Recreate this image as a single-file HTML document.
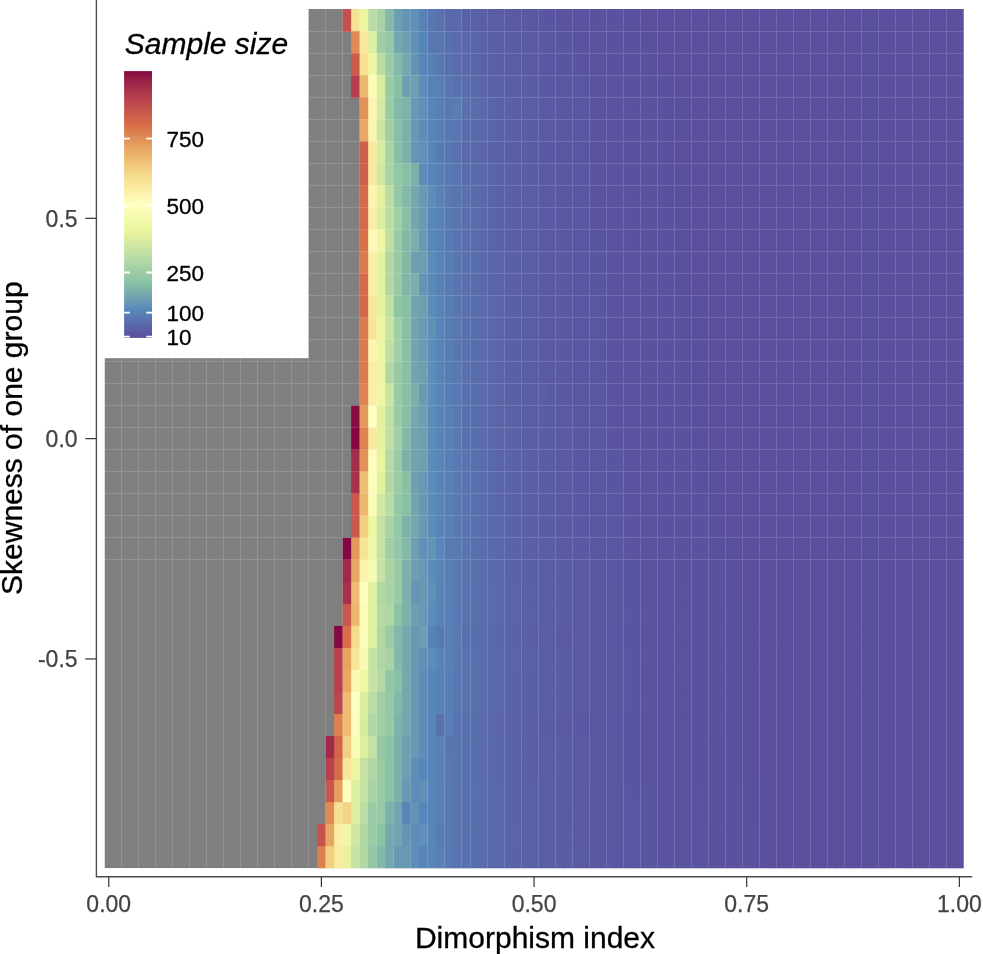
<!DOCTYPE html><html><head><meta charset="utf-8"><title>Sample size heatmap</title><style>html,body{margin:0;padding:0;background:#fff}svg{display:block}text{font-family:"Liberation Sans",Arial,Helvetica,sans-serif}#t rect{width:9.506px;height:23.030px}</style></head><body>
<svg width="983" height="954" viewBox="0 0 983 954">
<rect width="983" height="954" fill="#fff"/>
<clipPath id="cp"><rect x="104.50" y="9.05" width="859.11" height="859.17"/></clipPath>
<g id="t" clip-path="url(#cp)">
<path d="M104.50 9.05h859.11v859.17h-859.11z" fill="#7f7f7f"/>
<g transform="translate(0,9.050)">
<rect x="342.67" fill="#c4514d"/>
<rect x="351.17" fill="#f7e293"/>
<rect x="359.68" fill="#edf6a1"/>
<rect x="368.19" fill="#bbdda5"/>
<rect x="376.69" fill="#aad3a5"/>
<rect x="385.20" fill="#82b9a8"/>
<rect x="393.70" fill="#6d9eb1"/>
<rect x="402.21" fill="#6494b5"/>
<rect x="410.72" fill="#6090b7"/>
<rect x="419.22" fill="#5782b7"/>
<rect x="427.73" fill="#5976b1"/>
<rect x="436.23" fill="#5972af"/>
<rect x="444.74" fill="#5a69ab"/>
<rect x="453.25" fill="#5a69ab"/>
<rect x="461.75" fill="#5a62a7"/>
<rect x="470.26" fill="#5a62a7"/>
<rect x="478.76" fill="#5a5ea5"/>
<rect x="487.27" fill="#5a5da5"/>
<rect x="495.78" fill="#5a5ca4"/>
<rect x="504.28" fill="#5a5aa3"/>
<rect x="512.79" fill="#5a59a2"/>
<rect x="521.29" fill="#5a58a2"/>
<rect x="529.80" fill="#5a57a1"/>
<rect x="538.31" fill="#5a56a1"/>
<rect x="546.81" fill="#5a55a1"/>
<rect x="555.32" fill="#5a54a0"/>
<rect x="563.82" fill="#5a54a0"/>
<rect x="572.33" fill="#5a53a0"/>
<rect x="580.84" fill="#5a539f"/>
<rect x="589.34" fill="#5a529f"/>
<rect x="597.85" fill="#5a529f"/>
<rect x="606.35" fill="#5a519f"/>
<rect x="614.86" fill="#5a519f"/>
<rect x="623.37" fill="#5a519e"/>
<rect x="631.87" fill="#5a509e"/>
<rect x="640.38" fill="#5a509e"/>
<rect x="648.88" fill="#5a509e"/>
<rect x="657.39" fill="#5a509e"/>
<rect x="665.90" fill="#5a509e"/>
<rect x="674.40" fill="#5a509e"/>
<rect x="682.91" fill="#5a509e"/>
<rect x="691.41" fill="#5a509e"/>
<rect x="699.92" fill="#5a509e"/>
<rect x="708.43" fill="#5a509e"/>
<rect x="716.93" fill="#5a509e"/>
<rect x="725.44" fill="#5a509e"/>
<rect x="733.94" fill="#5a509e"/>
<rect x="742.45" fill="#5a509e"/>
<rect x="750.96" fill="#5a509e"/>
<rect x="759.46" fill="#5a509e"/>
<rect x="767.97" fill="#5a509e"/>
<rect x="776.47" fill="#5a509e"/>
<rect x="784.98" fill="#5a509e"/>
<rect x="793.49" fill="#5a509e"/>
<rect x="801.99" fill="#5a509e"/>
<rect x="810.50" fill="#5a509e"/>
<rect x="819.00" fill="#5a509e"/>
<rect x="827.51" fill="#5a509e"/>
<rect x="836.02" fill="#5a509e"/>
<rect x="844.52" fill="#5a509e"/>
<rect x="853.03" fill="#5a509e"/>
<rect x="861.53" fill="#5a509e"/>
<rect x="870.04" fill="#5a509e"/>
<rect x="878.55" fill="#5a509e"/>
<rect x="887.05" fill="#5a509e"/>
<rect x="895.56" fill="#5a509e"/>
<rect x="904.06" fill="#5a509e"/>
<rect x="912.57" fill="#5a509e"/>
<rect x="921.08" fill="#5a509e"/>
<rect x="929.58" fill="#5a509e"/>
<rect x="938.09" fill="#5a509e"/>
<rect x="946.59" fill="#5a509e"/>
<rect x="955.10" fill="#5a509e"/>
</g>
<g transform="translate(0,31.080)">
<rect x="351.17" fill="#e08a55"/>
<rect x="359.68" fill="#f9e89d"/>
<rect x="368.19" fill="#dcee9f"/>
<rect x="376.69" fill="#a1cea5"/>
<rect x="385.20" fill="#93c7a5"/>
<rect x="393.70" fill="#75a7ae"/>
<rect x="402.21" fill="#6d9eb1"/>
<rect x="410.72" fill="#6090b7"/>
<rect x="419.22" fill="#5785b9"/>
<rect x="427.73" fill="#5976b1"/>
<rect x="436.23" fill="#5976b1"/>
<rect x="444.74" fill="#5970ae"/>
<rect x="453.25" fill="#5a6bab"/>
<rect x="461.75" fill="#5a69ab"/>
<rect x="470.26" fill="#5a65a9"/>
<rect x="478.76" fill="#5a63a7"/>
<rect x="487.27" fill="#5a60a6"/>
<rect x="495.78" fill="#5a5ea5"/>
<rect x="504.28" fill="#5a5da4"/>
<rect x="512.79" fill="#5a5ba3"/>
<rect x="521.29" fill="#5a5aa3"/>
<rect x="529.80" fill="#5a59a2"/>
<rect x="538.31" fill="#5a58a2"/>
<rect x="546.81" fill="#5a57a1"/>
<rect x="555.32" fill="#5a56a1"/>
<rect x="563.82" fill="#5a55a1"/>
<rect x="572.33" fill="#5a54a0"/>
<rect x="580.84" fill="#5a54a0"/>
<rect x="589.34" fill="#5a53a0"/>
<rect x="597.85" fill="#5a539f"/>
<rect x="606.35" fill="#5a529f"/>
<rect x="614.86" fill="#5a529f"/>
<rect x="623.37" fill="#5a519f"/>
<rect x="631.87" fill="#5a519f"/>
<rect x="640.38" fill="#5a519e"/>
<rect x="648.88" fill="#5a509e"/>
<rect x="657.39" fill="#5a509e"/>
<rect x="665.90" fill="#5a509e"/>
<rect x="674.40" fill="#5a509e"/>
<rect x="682.91" fill="#5a509e"/>
<rect x="691.41" fill="#5a509e"/>
<rect x="699.92" fill="#5a509e"/>
<rect x="708.43" fill="#5a509e"/>
<rect x="716.93" fill="#5a509e"/>
<rect x="725.44" fill="#5a509e"/>
<rect x="733.94" fill="#5a509e"/>
<rect x="742.45" fill="#5a509e"/>
<rect x="750.96" fill="#5a509e"/>
<rect x="759.46" fill="#5a509e"/>
<rect x="767.97" fill="#5a509e"/>
<rect x="776.47" fill="#5a509e"/>
<rect x="784.98" fill="#5a509e"/>
<rect x="793.49" fill="#5a509e"/>
<rect x="801.99" fill="#5a509e"/>
<rect x="810.50" fill="#5a509e"/>
<rect x="819.00" fill="#5a509e"/>
<rect x="827.51" fill="#5a509e"/>
<rect x="836.02" fill="#5a509e"/>
<rect x="844.52" fill="#5a509e"/>
<rect x="853.03" fill="#5a509e"/>
<rect x="861.53" fill="#5a509e"/>
<rect x="870.04" fill="#5a509e"/>
<rect x="878.55" fill="#5a509e"/>
<rect x="887.05" fill="#5a509e"/>
<rect x="895.56" fill="#5a509e"/>
<rect x="904.06" fill="#5a509e"/>
<rect x="912.57" fill="#5a509e"/>
<rect x="921.08" fill="#5a509e"/>
<rect x="929.58" fill="#5a509e"/>
<rect x="938.09" fill="#5a509e"/>
<rect x="946.59" fill="#5a509e"/>
<rect x="955.10" fill="#5a509e"/>
</g>
<g transform="translate(0,53.110)">
<rect x="351.17" fill="#cb5b4b"/>
<rect x="359.68" fill="#f6e091"/>
<rect x="368.19" fill="#edf6a1"/>
<rect x="376.69" fill="#bbdda5"/>
<rect x="385.20" fill="#9acba5"/>
<rect x="393.70" fill="#82b9a8"/>
<rect x="402.21" fill="#75a7ae"/>
<rect x="410.72" fill="#6494b5"/>
<rect x="419.22" fill="#5785b9"/>
<rect x="427.73" fill="#587fb6"/>
<rect x="436.23" fill="#5978b2"/>
<rect x="444.74" fill="#5970ae"/>
<rect x="453.25" fill="#5a6cac"/>
<rect x="461.75" fill="#5a69ab"/>
<rect x="470.26" fill="#5a66a9"/>
<rect x="478.76" fill="#5a63a8"/>
<rect x="487.27" fill="#5a61a6"/>
<rect x="495.78" fill="#5a5fa5"/>
<rect x="504.28" fill="#5a5da5"/>
<rect x="512.79" fill="#5a5ca4"/>
<rect x="521.29" fill="#5a5aa3"/>
<rect x="529.80" fill="#5a59a3"/>
<rect x="538.31" fill="#5a58a2"/>
<rect x="546.81" fill="#5a57a2"/>
<rect x="555.32" fill="#5a56a1"/>
<rect x="563.82" fill="#5a55a1"/>
<rect x="572.33" fill="#5a55a0"/>
<rect x="580.84" fill="#5a54a0"/>
<rect x="589.34" fill="#5a54a0"/>
<rect x="597.85" fill="#5a53a0"/>
<rect x="606.35" fill="#5a529f"/>
<rect x="614.86" fill="#5a529f"/>
<rect x="623.37" fill="#5a529f"/>
<rect x="631.87" fill="#5a519f"/>
<rect x="640.38" fill="#5a519f"/>
<rect x="648.88" fill="#5a519e"/>
<rect x="657.39" fill="#5a509e"/>
<rect x="665.90" fill="#5a509e"/>
<rect x="674.40" fill="#5a509e"/>
<rect x="682.91" fill="#5a509e"/>
<rect x="691.41" fill="#5a509e"/>
<rect x="699.92" fill="#5a509e"/>
<rect x="708.43" fill="#5a509e"/>
<rect x="716.93" fill="#5a509e"/>
<rect x="725.44" fill="#5a509e"/>
<rect x="733.94" fill="#5a509e"/>
<rect x="742.45" fill="#5a509e"/>
<rect x="750.96" fill="#5a509e"/>
<rect x="759.46" fill="#5a509e"/>
<rect x="767.97" fill="#5a509e"/>
<rect x="776.47" fill="#5a509e"/>
<rect x="784.98" fill="#5a509e"/>
<rect x="793.49" fill="#5a509e"/>
<rect x="801.99" fill="#5a509e"/>
<rect x="810.50" fill="#5a509e"/>
<rect x="819.00" fill="#5a509e"/>
<rect x="827.51" fill="#5a509e"/>
<rect x="836.02" fill="#5a509e"/>
<rect x="844.52" fill="#5a509e"/>
<rect x="853.03" fill="#5a509e"/>
<rect x="861.53" fill="#5a509e"/>
<rect x="870.04" fill="#5a509e"/>
<rect x="878.55" fill="#5a509e"/>
<rect x="887.05" fill="#5a509e"/>
<rect x="895.56" fill="#5a509e"/>
<rect x="904.06" fill="#5a509e"/>
<rect x="912.57" fill="#5a509e"/>
<rect x="921.08" fill="#5a509e"/>
<rect x="929.58" fill="#5a509e"/>
<rect x="938.09" fill="#5a509e"/>
<rect x="946.59" fill="#5a509e"/>
<rect x="955.10" fill="#5a509e"/>
</g>
<g transform="translate(0,75.140)">
<rect x="351.17" fill="#b43d4e"/>
<rect x="359.68" fill="#ecb86f"/>
<rect x="368.19" fill="#fafcb7"/>
<rect x="376.69" fill="#dbed9f"/>
<rect x="385.20" fill="#9acba5"/>
<rect x="393.70" fill="#87c0a5"/>
<rect x="402.21" fill="#6d9eb1"/>
<rect x="410.72" fill="#6d9eb1"/>
<rect x="419.22" fill="#5c8cb8"/>
<rect x="427.73" fill="#5781b7"/>
<rect x="436.23" fill="#587fb6"/>
<rect x="444.74" fill="#5976b1"/>
<rect x="453.25" fill="#5970ae"/>
<rect x="461.75" fill="#5a6dac"/>
<rect x="470.26" fill="#5a69aa"/>
<rect x="478.76" fill="#5a66a9"/>
<rect x="487.27" fill="#5a63a8"/>
<rect x="495.78" fill="#5a61a6"/>
<rect x="504.28" fill="#5a5fa5"/>
<rect x="512.79" fill="#5a5da5"/>
<rect x="521.29" fill="#5a5ca4"/>
<rect x="529.80" fill="#5a5ba3"/>
<rect x="538.31" fill="#5a59a3"/>
<rect x="546.81" fill="#5a58a2"/>
<rect x="555.32" fill="#5a57a2"/>
<rect x="563.82" fill="#5a56a1"/>
<rect x="572.33" fill="#5a56a1"/>
<rect x="580.84" fill="#5a55a0"/>
<rect x="589.34" fill="#5a54a0"/>
<rect x="597.85" fill="#5a54a0"/>
<rect x="606.35" fill="#5a53a0"/>
<rect x="614.86" fill="#5a539f"/>
<rect x="623.37" fill="#5a529f"/>
<rect x="631.87" fill="#5a529f"/>
<rect x="640.38" fill="#5a519f"/>
<rect x="648.88" fill="#5a519f"/>
<rect x="657.39" fill="#5a519e"/>
<rect x="665.90" fill="#5a509e"/>
<rect x="674.40" fill="#5a509e"/>
<rect x="682.91" fill="#5a509e"/>
<rect x="691.41" fill="#5a509e"/>
<rect x="699.92" fill="#5a509e"/>
<rect x="708.43" fill="#5a509e"/>
<rect x="716.93" fill="#5a509e"/>
<rect x="725.44" fill="#5a509e"/>
<rect x="733.94" fill="#5a509e"/>
<rect x="742.45" fill="#5a509e"/>
<rect x="750.96" fill="#5a509e"/>
<rect x="759.46" fill="#5a509e"/>
<rect x="767.97" fill="#5a509e"/>
<rect x="776.47" fill="#5a509e"/>
<rect x="784.98" fill="#5a509e"/>
<rect x="793.49" fill="#5a509e"/>
<rect x="801.99" fill="#5a509e"/>
<rect x="810.50" fill="#5a509e"/>
<rect x="819.00" fill="#5a509e"/>
<rect x="827.51" fill="#5a509e"/>
<rect x="836.02" fill="#5a509e"/>
<rect x="844.52" fill="#5a509e"/>
<rect x="853.03" fill="#5a509e"/>
<rect x="861.53" fill="#5a509e"/>
<rect x="870.04" fill="#5a509e"/>
<rect x="878.55" fill="#5a509e"/>
<rect x="887.05" fill="#5a509e"/>
<rect x="895.56" fill="#5a509e"/>
<rect x="904.06" fill="#5a509e"/>
<rect x="912.57" fill="#5a509e"/>
<rect x="921.08" fill="#5a509e"/>
<rect x="929.58" fill="#5a509e"/>
<rect x="938.09" fill="#5a509e"/>
<rect x="946.59" fill="#5a509e"/>
<rect x="955.10" fill="#5a509e"/>
</g>
<g transform="translate(0,97.170)">
<rect x="359.68" fill="#e29258"/>
<rect x="368.19" fill="#fcf5b1"/>
<rect x="376.69" fill="#d4eaa0"/>
<rect x="385.20" fill="#9acba5"/>
<rect x="393.70" fill="#82b9a8"/>
<rect x="402.21" fill="#7eb3aa"/>
<rect x="410.72" fill="#6898b3"/>
<rect x="419.22" fill="#6090b7"/>
<rect x="427.73" fill="#5785b9"/>
<rect x="436.23" fill="#587fb6"/>
<rect x="444.74" fill="#5978b2"/>
<rect x="453.25" fill="#587cb4"/>
<rect x="461.75" fill="#5970ae"/>
<rect x="470.26" fill="#5a6cac"/>
<rect x="478.76" fill="#5a69aa"/>
<rect x="487.27" fill="#5a66a9"/>
<rect x="495.78" fill="#5a63a8"/>
<rect x="504.28" fill="#5a61a6"/>
<rect x="512.79" fill="#5a5fa5"/>
<rect x="521.29" fill="#5a5da5"/>
<rect x="529.80" fill="#5a5ca4"/>
<rect x="538.31" fill="#5a5aa3"/>
<rect x="546.81" fill="#5a59a3"/>
<rect x="555.32" fill="#5a58a2"/>
<rect x="563.82" fill="#5a57a2"/>
<rect x="572.33" fill="#5a56a1"/>
<rect x="580.84" fill="#5a56a1"/>
<rect x="589.34" fill="#5a55a0"/>
<rect x="597.85" fill="#5a54a0"/>
<rect x="606.35" fill="#5a54a0"/>
<rect x="614.86" fill="#5a53a0"/>
<rect x="623.37" fill="#5a539f"/>
<rect x="631.87" fill="#5a529f"/>
<rect x="640.38" fill="#5a529f"/>
<rect x="648.88" fill="#5a519f"/>
<rect x="657.39" fill="#5a519f"/>
<rect x="665.90" fill="#5a519e"/>
<rect x="674.40" fill="#5a509e"/>
<rect x="682.91" fill="#5a509e"/>
<rect x="691.41" fill="#5a509e"/>
<rect x="699.92" fill="#5a509e"/>
<rect x="708.43" fill="#5a509e"/>
<rect x="716.93" fill="#5a509e"/>
<rect x="725.44" fill="#5a509e"/>
<rect x="733.94" fill="#5a509e"/>
<rect x="742.45" fill="#5a509e"/>
<rect x="750.96" fill="#5a509e"/>
<rect x="759.46" fill="#5a509e"/>
<rect x="767.97" fill="#5a509e"/>
<rect x="776.47" fill="#5a509e"/>
<rect x="784.98" fill="#5a509e"/>
<rect x="793.49" fill="#5a509e"/>
<rect x="801.99" fill="#5a509e"/>
<rect x="810.50" fill="#5a509e"/>
<rect x="819.00" fill="#5a509e"/>
<rect x="827.51" fill="#5a509e"/>
<rect x="836.02" fill="#5a509e"/>
<rect x="844.52" fill="#5a509e"/>
<rect x="853.03" fill="#5a509e"/>
<rect x="861.53" fill="#5a509e"/>
<rect x="870.04" fill="#5a509e"/>
<rect x="878.55" fill="#5a509e"/>
<rect x="887.05" fill="#5a509e"/>
<rect x="895.56" fill="#5a509e"/>
<rect x="904.06" fill="#5a509e"/>
<rect x="912.57" fill="#5a509e"/>
<rect x="921.08" fill="#5a509e"/>
<rect x="929.58" fill="#5a509e"/>
<rect x="938.09" fill="#5a509e"/>
<rect x="946.59" fill="#5a509e"/>
<rect x="955.10" fill="#5a509e"/>
</g>
<g transform="translate(0,119.200)">
<rect x="359.68" fill="#e8a964"/>
<rect x="368.19" fill="#fcf4af"/>
<rect x="376.69" fill="#cce5a2"/>
<rect x="385.20" fill="#a1cea5"/>
<rect x="393.70" fill="#87c0a5"/>
<rect x="402.21" fill="#7bb0ab"/>
<rect x="410.72" fill="#6898b3"/>
<rect x="419.22" fill="#5d8db8"/>
<rect x="427.73" fill="#5785b9"/>
<rect x="436.23" fill="#587fb6"/>
<rect x="444.74" fill="#5977b2"/>
<rect x="453.25" fill="#5976b1"/>
<rect x="461.75" fill="#5a6cac"/>
<rect x="470.26" fill="#5a6bab"/>
<rect x="478.76" fill="#5a67a9"/>
<rect x="487.27" fill="#5a64a8"/>
<rect x="495.78" fill="#5a62a7"/>
<rect x="504.28" fill="#5a60a6"/>
<rect x="512.79" fill="#5a5ea5"/>
<rect x="521.29" fill="#5a5da4"/>
<rect x="529.80" fill="#5a5ba4"/>
<rect x="538.31" fill="#5a5aa3"/>
<rect x="546.81" fill="#5a59a2"/>
<rect x="555.32" fill="#5a58a2"/>
<rect x="563.82" fill="#5a57a1"/>
<rect x="572.33" fill="#5a56a1"/>
<rect x="580.84" fill="#5a55a1"/>
<rect x="589.34" fill="#5a55a0"/>
<rect x="597.85" fill="#5a54a0"/>
<rect x="606.35" fill="#5a53a0"/>
<rect x="614.86" fill="#5a53a0"/>
<rect x="623.37" fill="#5a529f"/>
<rect x="631.87" fill="#5a529f"/>
<rect x="640.38" fill="#5a529f"/>
<rect x="648.88" fill="#5a519f"/>
<rect x="657.39" fill="#5a519f"/>
<rect x="665.90" fill="#5a519e"/>
<rect x="674.40" fill="#5a509e"/>
<rect x="682.91" fill="#5a509e"/>
<rect x="691.41" fill="#5a509e"/>
<rect x="699.92" fill="#5a509e"/>
<rect x="708.43" fill="#5a509e"/>
<rect x="716.93" fill="#5a509e"/>
<rect x="725.44" fill="#5a509e"/>
<rect x="733.94" fill="#5a509e"/>
<rect x="742.45" fill="#5a509e"/>
<rect x="750.96" fill="#5a509e"/>
<rect x="759.46" fill="#5a509e"/>
<rect x="767.97" fill="#5a509e"/>
<rect x="776.47" fill="#5a509e"/>
<rect x="784.98" fill="#5a509e"/>
<rect x="793.49" fill="#5a509e"/>
<rect x="801.99" fill="#5a509e"/>
<rect x="810.50" fill="#5a509e"/>
<rect x="819.00" fill="#5a509e"/>
<rect x="827.51" fill="#5a509e"/>
<rect x="836.02" fill="#5a509e"/>
<rect x="844.52" fill="#5a509e"/>
<rect x="853.03" fill="#5a509e"/>
<rect x="861.53" fill="#5a509e"/>
<rect x="870.04" fill="#5a509e"/>
<rect x="878.55" fill="#5a509e"/>
<rect x="887.05" fill="#5a509e"/>
<rect x="895.56" fill="#5a509e"/>
<rect x="904.06" fill="#5a509e"/>
<rect x="912.57" fill="#5a509e"/>
<rect x="921.08" fill="#5a509e"/>
<rect x="929.58" fill="#5a509e"/>
<rect x="938.09" fill="#5a509e"/>
<rect x="946.59" fill="#5a509e"/>
<rect x="955.10" fill="#5a509e"/>
</g>
<g transform="translate(0,141.230)">
<rect x="359.68" fill="#ce604a"/>
<rect x="368.19" fill="#f9eaa0"/>
<rect x="376.69" fill="#d8ec9f"/>
<rect x="385.20" fill="#aad3a5"/>
<rect x="393.70" fill="#87c0a5"/>
<rect x="402.21" fill="#7bb0ab"/>
<rect x="410.72" fill="#6695b5"/>
<rect x="419.22" fill="#6090b7"/>
<rect x="427.73" fill="#5785b9"/>
<rect x="436.23" fill="#587ab3"/>
<rect x="444.74" fill="#5977b2"/>
<rect x="453.25" fill="#5972af"/>
<rect x="461.75" fill="#5a6bab"/>
<rect x="470.26" fill="#5a69aa"/>
<rect x="478.76" fill="#5a66a9"/>
<rect x="487.27" fill="#5a63a8"/>
<rect x="495.78" fill="#5a61a6"/>
<rect x="504.28" fill="#5a5fa5"/>
<rect x="512.79" fill="#5a5da5"/>
<rect x="521.29" fill="#5a5ca4"/>
<rect x="529.80" fill="#5a5ba3"/>
<rect x="538.31" fill="#5a59a3"/>
<rect x="546.81" fill="#5a58a2"/>
<rect x="555.32" fill="#5a57a2"/>
<rect x="563.82" fill="#5a57a1"/>
<rect x="572.33" fill="#5a56a1"/>
<rect x="580.84" fill="#5a55a1"/>
<rect x="589.34" fill="#5a54a0"/>
<rect x="597.85" fill="#5a54a0"/>
<rect x="606.35" fill="#5a53a0"/>
<rect x="614.86" fill="#5a539f"/>
<rect x="623.37" fill="#5a529f"/>
<rect x="631.87" fill="#5a529f"/>
<rect x="640.38" fill="#5a529f"/>
<rect x="648.88" fill="#5a519f"/>
<rect x="657.39" fill="#5a519f"/>
<rect x="665.90" fill="#5a509e"/>
<rect x="674.40" fill="#5a509e"/>
<rect x="682.91" fill="#5a509e"/>
<rect x="691.41" fill="#5a509e"/>
<rect x="699.92" fill="#5a509e"/>
<rect x="708.43" fill="#5a509e"/>
<rect x="716.93" fill="#5a509e"/>
<rect x="725.44" fill="#5a509e"/>
<rect x="733.94" fill="#5a509e"/>
<rect x="742.45" fill="#5a509e"/>
<rect x="750.96" fill="#5a509e"/>
<rect x="759.46" fill="#5a509e"/>
<rect x="767.97" fill="#5a509e"/>
<rect x="776.47" fill="#5a509e"/>
<rect x="784.98" fill="#5a509e"/>
<rect x="793.49" fill="#5a509e"/>
<rect x="801.99" fill="#5a509e"/>
<rect x="810.50" fill="#5a509e"/>
<rect x="819.00" fill="#5a509e"/>
<rect x="827.51" fill="#5a509e"/>
<rect x="836.02" fill="#5a509e"/>
<rect x="844.52" fill="#5a509e"/>
<rect x="853.03" fill="#5a509e"/>
<rect x="861.53" fill="#5a509e"/>
<rect x="870.04" fill="#5a509e"/>
<rect x="878.55" fill="#5a509e"/>
<rect x="887.05" fill="#5a509e"/>
<rect x="895.56" fill="#5a509e"/>
<rect x="904.06" fill="#5a509e"/>
<rect x="912.57" fill="#5a509e"/>
<rect x="921.08" fill="#5a509e"/>
<rect x="929.58" fill="#5a509e"/>
<rect x="938.09" fill="#5a509e"/>
<rect x="946.59" fill="#5a509e"/>
<rect x="955.10" fill="#5a509e"/>
</g>
<g transform="translate(0,163.260)">
<rect x="359.68" fill="#ce5f4a"/>
<rect x="368.19" fill="#f9e89d"/>
<rect x="376.69" fill="#d1e8a1"/>
<rect x="385.20" fill="#aad3a5"/>
<rect x="393.70" fill="#93c7a5"/>
<rect x="402.21" fill="#87c0a5"/>
<rect x="410.72" fill="#7bb0ab"/>
<rect x="419.22" fill="#5c8cb8"/>
<rect x="427.73" fill="#5785b9"/>
<rect x="436.23" fill="#587fb6"/>
<rect x="444.74" fill="#5978b2"/>
<rect x="453.25" fill="#5974b0"/>
<rect x="461.75" fill="#596dad"/>
<rect x="470.26" fill="#5a6aab"/>
<rect x="478.76" fill="#5a67aa"/>
<rect x="487.27" fill="#5a64a8"/>
<rect x="495.78" fill="#5a62a7"/>
<rect x="504.28" fill="#5a60a6"/>
<rect x="512.79" fill="#5a5ea5"/>
<rect x="521.29" fill="#5a5da4"/>
<rect x="529.80" fill="#5a5ba3"/>
<rect x="538.31" fill="#5a5aa3"/>
<rect x="546.81" fill="#5a59a2"/>
<rect x="555.32" fill="#5a58a2"/>
<rect x="563.82" fill="#5a57a1"/>
<rect x="572.33" fill="#5a56a1"/>
<rect x="580.84" fill="#5a55a1"/>
<rect x="589.34" fill="#5a55a0"/>
<rect x="597.85" fill="#5a54a0"/>
<rect x="606.35" fill="#5a53a0"/>
<rect x="614.86" fill="#5a53a0"/>
<rect x="623.37" fill="#5a529f"/>
<rect x="631.87" fill="#5a529f"/>
<rect x="640.38" fill="#5a529f"/>
<rect x="648.88" fill="#5a519f"/>
<rect x="657.39" fill="#5a519f"/>
<rect x="665.90" fill="#5a519e"/>
<rect x="674.40" fill="#5a509e"/>
<rect x="682.91" fill="#5a509e"/>
<rect x="691.41" fill="#5a509e"/>
<rect x="699.92" fill="#5a509e"/>
<rect x="708.43" fill="#5a509e"/>
<rect x="716.93" fill="#5a509e"/>
<rect x="725.44" fill="#5a509e"/>
<rect x="733.94" fill="#5a509e"/>
<rect x="742.45" fill="#5a509e"/>
<rect x="750.96" fill="#5a509e"/>
<rect x="759.46" fill="#5a509e"/>
<rect x="767.97" fill="#5a509e"/>
<rect x="776.47" fill="#5a509e"/>
<rect x="784.98" fill="#5a509e"/>
<rect x="793.49" fill="#5a509e"/>
<rect x="801.99" fill="#5a509e"/>
<rect x="810.50" fill="#5a509e"/>
<rect x="819.00" fill="#5a509e"/>
<rect x="827.51" fill="#5a509e"/>
<rect x="836.02" fill="#5a509e"/>
<rect x="844.52" fill="#5a509e"/>
<rect x="853.03" fill="#5a509e"/>
<rect x="861.53" fill="#5a509e"/>
<rect x="870.04" fill="#5a509e"/>
<rect x="878.55" fill="#5a509e"/>
<rect x="887.05" fill="#5a509e"/>
<rect x="895.56" fill="#5a509e"/>
<rect x="904.06" fill="#5a509e"/>
<rect x="912.57" fill="#5a509e"/>
<rect x="921.08" fill="#5a509e"/>
<rect x="929.58" fill="#5a509e"/>
<rect x="938.09" fill="#5a509e"/>
<rect x="946.59" fill="#5a509e"/>
<rect x="955.10" fill="#5a509e"/>
</g>
<g transform="translate(0,185.290)">
<rect x="359.68" fill="#d66a48"/>
<rect x="368.19" fill="#fcf5b0"/>
<rect x="376.69" fill="#e4f29d"/>
<rect x="385.20" fill="#bbdda5"/>
<rect x="393.70" fill="#93c7a5"/>
<rect x="402.21" fill="#82b9a8"/>
<rect x="410.72" fill="#75a7ae"/>
<rect x="419.22" fill="#6898b3"/>
<rect x="427.73" fill="#5c8cb8"/>
<rect x="436.23" fill="#5781b7"/>
<rect x="444.74" fill="#5978b2"/>
<rect x="453.25" fill="#5975b0"/>
<rect x="461.75" fill="#5970ae"/>
<rect x="470.26" fill="#5a6bac"/>
<rect x="478.76" fill="#5a68aa"/>
<rect x="487.27" fill="#5a65a8"/>
<rect x="495.78" fill="#5a63a7"/>
<rect x="504.28" fill="#5a61a6"/>
<rect x="512.79" fill="#5a5fa5"/>
<rect x="521.29" fill="#5a5da4"/>
<rect x="529.80" fill="#5a5ca4"/>
<rect x="538.31" fill="#5a5aa3"/>
<rect x="546.81" fill="#5a59a2"/>
<rect x="555.32" fill="#5a58a2"/>
<rect x="563.82" fill="#5a57a2"/>
<rect x="572.33" fill="#5a56a1"/>
<rect x="580.84" fill="#5a55a1"/>
<rect x="589.34" fill="#5a55a0"/>
<rect x="597.85" fill="#5a54a0"/>
<rect x="606.35" fill="#5a54a0"/>
<rect x="614.86" fill="#5a53a0"/>
<rect x="623.37" fill="#5a539f"/>
<rect x="631.87" fill="#5a529f"/>
<rect x="640.38" fill="#5a529f"/>
<rect x="648.88" fill="#5a519f"/>
<rect x="657.39" fill="#5a519f"/>
<rect x="665.90" fill="#5a519e"/>
<rect x="674.40" fill="#5a509e"/>
<rect x="682.91" fill="#5a509e"/>
<rect x="691.41" fill="#5a509e"/>
<rect x="699.92" fill="#5a509e"/>
<rect x="708.43" fill="#5a509e"/>
<rect x="716.93" fill="#5a509e"/>
<rect x="725.44" fill="#5a509e"/>
<rect x="733.94" fill="#5a509e"/>
<rect x="742.45" fill="#5a509e"/>
<rect x="750.96" fill="#5a509e"/>
<rect x="759.46" fill="#5a509e"/>
<rect x="767.97" fill="#5a509e"/>
<rect x="776.47" fill="#5a509e"/>
<rect x="784.98" fill="#5a509e"/>
<rect x="793.49" fill="#5a509e"/>
<rect x="801.99" fill="#5a509e"/>
<rect x="810.50" fill="#5a509e"/>
<rect x="819.00" fill="#5a509e"/>
<rect x="827.51" fill="#5a509e"/>
<rect x="836.02" fill="#5a509e"/>
<rect x="844.52" fill="#5a509e"/>
<rect x="853.03" fill="#5a509e"/>
<rect x="861.53" fill="#5a509e"/>
<rect x="870.04" fill="#5a509e"/>
<rect x="878.55" fill="#5a509e"/>
<rect x="887.05" fill="#5a509e"/>
<rect x="895.56" fill="#5a509e"/>
<rect x="904.06" fill="#5a509e"/>
<rect x="912.57" fill="#5a509e"/>
<rect x="921.08" fill="#5a509e"/>
<rect x="929.58" fill="#5a509e"/>
<rect x="938.09" fill="#5a509e"/>
<rect x="946.59" fill="#5a509e"/>
<rect x="955.10" fill="#5a509e"/>
</g>
<g transform="translate(0,207.320)">
<rect x="359.68" fill="#d66a48"/>
<rect x="368.19" fill="#faeea6"/>
<rect x="376.69" fill="#dcee9f"/>
<rect x="385.20" fill="#bbdda5"/>
<rect x="393.70" fill="#a1cea5"/>
<rect x="402.21" fill="#87c0a5"/>
<rect x="410.72" fill="#74a6ae"/>
<rect x="419.22" fill="#6999b3"/>
<rect x="427.73" fill="#5888b9"/>
<rect x="436.23" fill="#5781b7"/>
<rect x="444.74" fill="#587ab3"/>
<rect x="453.25" fill="#5976b1"/>
<rect x="461.75" fill="#5970ae"/>
<rect x="470.26" fill="#5a6cac"/>
<rect x="478.76" fill="#5a68aa"/>
<rect x="487.27" fill="#5a66a9"/>
<rect x="495.78" fill="#5a63a7"/>
<rect x="504.28" fill="#5a61a6"/>
<rect x="512.79" fill="#5a5fa5"/>
<rect x="521.29" fill="#5a5da5"/>
<rect x="529.80" fill="#5a5ca4"/>
<rect x="538.31" fill="#5a5ba3"/>
<rect x="546.81" fill="#5a59a3"/>
<rect x="555.32" fill="#5a58a2"/>
<rect x="563.82" fill="#5a57a2"/>
<rect x="572.33" fill="#5a57a1"/>
<rect x="580.84" fill="#5a56a1"/>
<rect x="589.34" fill="#5a55a1"/>
<rect x="597.85" fill="#5a54a0"/>
<rect x="606.35" fill="#5a54a0"/>
<rect x="614.86" fill="#5a53a0"/>
<rect x="623.37" fill="#5a539f"/>
<rect x="631.87" fill="#5a529f"/>
<rect x="640.38" fill="#5a529f"/>
<rect x="648.88" fill="#5a529f"/>
<rect x="657.39" fill="#5a519f"/>
<rect x="665.90" fill="#5a519f"/>
<rect x="674.40" fill="#5a519e"/>
<rect x="682.91" fill="#5a509e"/>
<rect x="691.41" fill="#5a509e"/>
<rect x="699.92" fill="#5a509e"/>
<rect x="708.43" fill="#5a509e"/>
<rect x="716.93" fill="#5a509e"/>
<rect x="725.44" fill="#5a509e"/>
<rect x="733.94" fill="#5a509e"/>
<rect x="742.45" fill="#5a509e"/>
<rect x="750.96" fill="#5a509e"/>
<rect x="759.46" fill="#5a509e"/>
<rect x="767.97" fill="#5a509e"/>
<rect x="776.47" fill="#5a509e"/>
<rect x="784.98" fill="#5a509e"/>
<rect x="793.49" fill="#5a509e"/>
<rect x="801.99" fill="#5a509e"/>
<rect x="810.50" fill="#5a509e"/>
<rect x="819.00" fill="#5a509e"/>
<rect x="827.51" fill="#5a509e"/>
<rect x="836.02" fill="#5a509e"/>
<rect x="844.52" fill="#5a509e"/>
<rect x="853.03" fill="#5a509e"/>
<rect x="861.53" fill="#5a509e"/>
<rect x="870.04" fill="#5a509e"/>
<rect x="878.55" fill="#5a509e"/>
<rect x="887.05" fill="#5a509e"/>
<rect x="895.56" fill="#5a509e"/>
<rect x="904.06" fill="#5a509e"/>
<rect x="912.57" fill="#5a509e"/>
<rect x="921.08" fill="#5a509e"/>
<rect x="929.58" fill="#5a509e"/>
<rect x="938.09" fill="#5a509e"/>
<rect x="946.59" fill="#5a509e"/>
<rect x="955.10" fill="#5a509e"/>
</g>
<g transform="translate(0,229.350)">
<rect x="359.68" fill="#d87048"/>
<rect x="368.19" fill="#fdf9b8"/>
<rect x="376.69" fill="#eff7a5"/>
<rect x="385.20" fill="#c1e0a4"/>
<rect x="393.70" fill="#99caa5"/>
<rect x="402.21" fill="#83baa7"/>
<rect x="410.72" fill="#7bafab"/>
<rect x="419.22" fill="#6999b3"/>
<rect x="427.73" fill="#5888b9"/>
<rect x="436.23" fill="#5782b7"/>
<rect x="444.74" fill="#587bb4"/>
<rect x="453.25" fill="#5975b1"/>
<rect x="461.75" fill="#5970ae"/>
<rect x="470.26" fill="#5a6cac"/>
<rect x="478.76" fill="#5a69aa"/>
<rect x="487.27" fill="#5a66a9"/>
<rect x="495.78" fill="#5a63a8"/>
<rect x="504.28" fill="#5a61a7"/>
<rect x="512.79" fill="#5a5fa6"/>
<rect x="521.29" fill="#5a5ea5"/>
<rect x="529.80" fill="#5a5ca4"/>
<rect x="538.31" fill="#5a5ba3"/>
<rect x="546.81" fill="#5a5aa3"/>
<rect x="555.32" fill="#5a59a2"/>
<rect x="563.82" fill="#5a58a2"/>
<rect x="572.33" fill="#5a57a1"/>
<rect x="580.84" fill="#5a56a1"/>
<rect x="589.34" fill="#5a55a1"/>
<rect x="597.85" fill="#5a55a0"/>
<rect x="606.35" fill="#5a54a0"/>
<rect x="614.86" fill="#5a53a0"/>
<rect x="623.37" fill="#5a53a0"/>
<rect x="631.87" fill="#5a529f"/>
<rect x="640.38" fill="#5a529f"/>
<rect x="648.88" fill="#5a529f"/>
<rect x="657.39" fill="#5a519f"/>
<rect x="665.90" fill="#5a519f"/>
<rect x="674.40" fill="#5a519e"/>
<rect x="682.91" fill="#5a509e"/>
<rect x="691.41" fill="#5a509e"/>
<rect x="699.92" fill="#5a509e"/>
<rect x="708.43" fill="#5a509e"/>
<rect x="716.93" fill="#5a509e"/>
<rect x="725.44" fill="#5a509e"/>
<rect x="733.94" fill="#5a509e"/>
<rect x="742.45" fill="#5a509e"/>
<rect x="750.96" fill="#5a509e"/>
<rect x="759.46" fill="#5a509e"/>
<rect x="767.97" fill="#5a509e"/>
<rect x="776.47" fill="#5a509e"/>
<rect x="784.98" fill="#5a509e"/>
<rect x="793.49" fill="#5a509e"/>
<rect x="801.99" fill="#5a509e"/>
<rect x="810.50" fill="#5a509e"/>
<rect x="819.00" fill="#5a509e"/>
<rect x="827.51" fill="#5a509e"/>
<rect x="836.02" fill="#5a509e"/>
<rect x="844.52" fill="#5a509e"/>
<rect x="853.03" fill="#5a509e"/>
<rect x="861.53" fill="#5a509e"/>
<rect x="870.04" fill="#5a509e"/>
<rect x="878.55" fill="#5a509e"/>
<rect x="887.05" fill="#5a509e"/>
<rect x="895.56" fill="#5a509e"/>
<rect x="904.06" fill="#5a509e"/>
<rect x="912.57" fill="#5a509e"/>
<rect x="921.08" fill="#5a509e"/>
<rect x="929.58" fill="#5a509e"/>
<rect x="938.09" fill="#5a509e"/>
<rect x="946.59" fill="#5a509e"/>
<rect x="955.10" fill="#5a509e"/>
</g>
<g transform="translate(0,251.380)">
<rect x="359.68" fill="#db7a4d"/>
<rect x="368.19" fill="#faeea6"/>
<rect x="376.69" fill="#e6f39d"/>
<rect x="385.20" fill="#b1d7a5"/>
<rect x="393.70" fill="#99caa5"/>
<rect x="402.21" fill="#83baa7"/>
<rect x="410.72" fill="#6e9fb1"/>
<rect x="419.22" fill="#6e9fb1"/>
<rect x="427.73" fill="#5c8cb8"/>
<rect x="436.23" fill="#5783b8"/>
<rect x="444.74" fill="#587cb4"/>
<rect x="453.25" fill="#5976b1"/>
<rect x="461.75" fill="#5971ae"/>
<rect x="470.26" fill="#5a6dac"/>
<rect x="478.76" fill="#5a69ab"/>
<rect x="487.27" fill="#5a66a9"/>
<rect x="495.78" fill="#5a64a8"/>
<rect x="504.28" fill="#5a61a7"/>
<rect x="512.79" fill="#5a60a6"/>
<rect x="521.29" fill="#5a5ea5"/>
<rect x="529.80" fill="#5a5ca4"/>
<rect x="538.31" fill="#5a5ba3"/>
<rect x="546.81" fill="#5a5aa3"/>
<rect x="555.32" fill="#5a59a2"/>
<rect x="563.82" fill="#5a58a2"/>
<rect x="572.33" fill="#5a57a1"/>
<rect x="580.84" fill="#5a56a1"/>
<rect x="589.34" fill="#5a55a1"/>
<rect x="597.85" fill="#5a55a0"/>
<rect x="606.35" fill="#5a54a0"/>
<rect x="614.86" fill="#5a54a0"/>
<rect x="623.37" fill="#5a53a0"/>
<rect x="631.87" fill="#5a539f"/>
<rect x="640.38" fill="#5a529f"/>
<rect x="648.88" fill="#5a529f"/>
<rect x="657.39" fill="#5a519f"/>
<rect x="665.90" fill="#5a519f"/>
<rect x="674.40" fill="#5a519e"/>
<rect x="682.91" fill="#5a509e"/>
<rect x="691.41" fill="#5a509e"/>
<rect x="699.92" fill="#5a509e"/>
<rect x="708.43" fill="#5a509e"/>
<rect x="716.93" fill="#5a509e"/>
<rect x="725.44" fill="#5a509e"/>
<rect x="733.94" fill="#5a509e"/>
<rect x="742.45" fill="#5a509e"/>
<rect x="750.96" fill="#5a509e"/>
<rect x="759.46" fill="#5a509e"/>
<rect x="767.97" fill="#5a509e"/>
<rect x="776.47" fill="#5a509e"/>
<rect x="784.98" fill="#5a509e"/>
<rect x="793.49" fill="#5a509e"/>
<rect x="801.99" fill="#5a509e"/>
<rect x="810.50" fill="#5a509e"/>
<rect x="819.00" fill="#5a509e"/>
<rect x="827.51" fill="#5a509e"/>
<rect x="836.02" fill="#5a509e"/>
<rect x="844.52" fill="#5a509e"/>
<rect x="853.03" fill="#5a509e"/>
<rect x="861.53" fill="#5a509e"/>
<rect x="870.04" fill="#5a509e"/>
<rect x="878.55" fill="#5a509e"/>
<rect x="887.05" fill="#5a509e"/>
<rect x="895.56" fill="#5a509e"/>
<rect x="904.06" fill="#5a509e"/>
<rect x="912.57" fill="#5a509e"/>
<rect x="921.08" fill="#5a509e"/>
<rect x="929.58" fill="#5a509e"/>
<rect x="938.09" fill="#5a509e"/>
<rect x="946.59" fill="#5a509e"/>
<rect x="955.10" fill="#5a509e"/>
</g>
<g transform="translate(0,273.410)">
<rect x="359.68" fill="#d56948"/>
<rect x="368.19" fill="#faeea6"/>
<rect x="376.69" fill="#e4f29d"/>
<rect x="385.20" fill="#b1d7a5"/>
<rect x="393.70" fill="#99caa5"/>
<rect x="402.21" fill="#81b7a8"/>
<rect x="410.72" fill="#7bafab"/>
<rect x="419.22" fill="#6494b5"/>
<rect x="427.73" fill="#5b8ab8"/>
<rect x="436.23" fill="#5782b7"/>
<rect x="444.74" fill="#587bb4"/>
<rect x="453.25" fill="#5975b1"/>
<rect x="461.75" fill="#5970ae"/>
<rect x="470.26" fill="#5a6cac"/>
<rect x="478.76" fill="#5a69aa"/>
<rect x="487.27" fill="#5a66a9"/>
<rect x="495.78" fill="#5a64a8"/>
<rect x="504.28" fill="#5a61a7"/>
<rect x="512.79" fill="#5a5fa6"/>
<rect x="521.29" fill="#5a5ea5"/>
<rect x="529.80" fill="#5a5ca4"/>
<rect x="538.31" fill="#5a5ba3"/>
<rect x="546.81" fill="#5a5aa3"/>
<rect x="555.32" fill="#5a59a2"/>
<rect x="563.82" fill="#5a58a2"/>
<rect x="572.33" fill="#5a57a1"/>
<rect x="580.84" fill="#5a56a1"/>
<rect x="589.34" fill="#5a55a1"/>
<rect x="597.85" fill="#5a55a0"/>
<rect x="606.35" fill="#5a54a0"/>
<rect x="614.86" fill="#5a54a0"/>
<rect x="623.37" fill="#5a53a0"/>
<rect x="631.87" fill="#5a539f"/>
<rect x="640.38" fill="#5a529f"/>
<rect x="648.88" fill="#5a529f"/>
<rect x="657.39" fill="#5a519f"/>
<rect x="665.90" fill="#5a519f"/>
<rect x="674.40" fill="#5a519e"/>
<rect x="682.91" fill="#5a509e"/>
<rect x="691.41" fill="#5a509e"/>
<rect x="699.92" fill="#5a509e"/>
<rect x="708.43" fill="#5a509e"/>
<rect x="716.93" fill="#5a509e"/>
<rect x="725.44" fill="#5a509e"/>
<rect x="733.94" fill="#5a509e"/>
<rect x="742.45" fill="#5a509e"/>
<rect x="750.96" fill="#5a509e"/>
<rect x="759.46" fill="#5a509e"/>
<rect x="767.97" fill="#5a509e"/>
<rect x="776.47" fill="#5a509e"/>
<rect x="784.98" fill="#5a509e"/>
<rect x="793.49" fill="#5a509e"/>
<rect x="801.99" fill="#5a509e"/>
<rect x="810.50" fill="#5a509e"/>
<rect x="819.00" fill="#5a509e"/>
<rect x="827.51" fill="#5a509e"/>
<rect x="836.02" fill="#5a509e"/>
<rect x="844.52" fill="#5a509e"/>
<rect x="853.03" fill="#5a509e"/>
<rect x="861.53" fill="#5a509e"/>
<rect x="870.04" fill="#5a509e"/>
<rect x="878.55" fill="#5a509e"/>
<rect x="887.05" fill="#5a509e"/>
<rect x="895.56" fill="#5a509e"/>
<rect x="904.06" fill="#5a509e"/>
<rect x="912.57" fill="#5a509e"/>
<rect x="921.08" fill="#5a509e"/>
<rect x="929.58" fill="#5a509e"/>
<rect x="938.09" fill="#5a509e"/>
<rect x="946.59" fill="#5a509e"/>
<rect x="955.10" fill="#5a509e"/>
</g>
<g transform="translate(0,295.440)">
<rect x="359.68" fill="#d36748"/>
<rect x="368.19" fill="#f8e598"/>
<rect x="376.69" fill="#e6f39d"/>
<rect x="385.20" fill="#c1e0a4"/>
<rect x="393.70" fill="#8fc5a5"/>
<rect x="402.21" fill="#87c0a5"/>
<rect x="410.72" fill="#72a4af"/>
<rect x="419.22" fill="#6e9fb1"/>
<rect x="427.73" fill="#5c8cb8"/>
<rect x="436.23" fill="#5784b8"/>
<rect x="444.74" fill="#587cb4"/>
<rect x="453.25" fill="#5976b1"/>
<rect x="461.75" fill="#5971af"/>
<rect x="470.26" fill="#596dad"/>
<rect x="478.76" fill="#5a6aab"/>
<rect x="487.27" fill="#5a67a9"/>
<rect x="495.78" fill="#5a64a8"/>
<rect x="504.28" fill="#5a62a7"/>
<rect x="512.79" fill="#5a60a6"/>
<rect x="521.29" fill="#5a5ea5"/>
<rect x="529.80" fill="#5a5da4"/>
<rect x="538.31" fill="#5a5ba4"/>
<rect x="546.81" fill="#5a5aa3"/>
<rect x="555.32" fill="#5a59a2"/>
<rect x="563.82" fill="#5a58a2"/>
<rect x="572.33" fill="#5a57a2"/>
<rect x="580.84" fill="#5a56a1"/>
<rect x="589.34" fill="#5a56a1"/>
<rect x="597.85" fill="#5a55a0"/>
<rect x="606.35" fill="#5a54a0"/>
<rect x="614.86" fill="#5a54a0"/>
<rect x="623.37" fill="#5a53a0"/>
<rect x="631.87" fill="#5a539f"/>
<rect x="640.38" fill="#5a529f"/>
<rect x="648.88" fill="#5a529f"/>
<rect x="657.39" fill="#5a519f"/>
<rect x="665.90" fill="#5a519f"/>
<rect x="674.40" fill="#5a519f"/>
<rect x="682.91" fill="#5a519e"/>
<rect x="691.41" fill="#5a509e"/>
<rect x="699.92" fill="#5a509e"/>
<rect x="708.43" fill="#5a509e"/>
<rect x="716.93" fill="#5a509e"/>
<rect x="725.44" fill="#5a509e"/>
<rect x="733.94" fill="#5a509e"/>
<rect x="742.45" fill="#5a509e"/>
<rect x="750.96" fill="#5a509e"/>
<rect x="759.46" fill="#5a509e"/>
<rect x="767.97" fill="#5a509e"/>
<rect x="776.47" fill="#5a509e"/>
<rect x="784.98" fill="#5a509e"/>
<rect x="793.49" fill="#5a509e"/>
<rect x="801.99" fill="#5a509e"/>
<rect x="810.50" fill="#5a509e"/>
<rect x="819.00" fill="#5a509e"/>
<rect x="827.51" fill="#5a509e"/>
<rect x="836.02" fill="#5a509e"/>
<rect x="844.52" fill="#5a509e"/>
<rect x="853.03" fill="#5a509e"/>
<rect x="861.53" fill="#5a509e"/>
<rect x="870.04" fill="#5a509e"/>
<rect x="878.55" fill="#5a509e"/>
<rect x="887.05" fill="#5a509e"/>
<rect x="895.56" fill="#5a509e"/>
<rect x="904.06" fill="#5a509e"/>
<rect x="912.57" fill="#5a509e"/>
<rect x="921.08" fill="#5a509e"/>
<rect x="929.58" fill="#5a509e"/>
<rect x="938.09" fill="#5a509e"/>
<rect x="946.59" fill="#5a509e"/>
<rect x="955.10" fill="#5a509e"/>
</g>
<g transform="translate(0,317.470)">
<rect x="359.68" fill="#db7a4d"/>
<rect x="368.19" fill="#f7e395"/>
<rect x="376.69" fill="#edf6a1"/>
<rect x="385.20" fill="#c9e4a3"/>
<rect x="393.70" fill="#a1cea5"/>
<rect x="402.21" fill="#87c0a5"/>
<rect x="410.72" fill="#72a4af"/>
<rect x="419.22" fill="#6999b3"/>
<rect x="427.73" fill="#6190b6"/>
<rect x="436.23" fill="#5784b8"/>
<rect x="444.74" fill="#587db5"/>
<rect x="453.25" fill="#5977b1"/>
<rect x="461.75" fill="#5972af"/>
<rect x="470.26" fill="#596ead"/>
<rect x="478.76" fill="#5a6aab"/>
<rect x="487.27" fill="#5a67a9"/>
<rect x="495.78" fill="#5a64a8"/>
<rect x="504.28" fill="#5a62a7"/>
<rect x="512.79" fill="#5a60a6"/>
<rect x="521.29" fill="#5a5ea5"/>
<rect x="529.80" fill="#5a5da4"/>
<rect x="538.31" fill="#5a5ba4"/>
<rect x="546.81" fill="#5a5aa3"/>
<rect x="555.32" fill="#5a59a2"/>
<rect x="563.82" fill="#5a58a2"/>
<rect x="572.33" fill="#5a57a2"/>
<rect x="580.84" fill="#5a56a1"/>
<rect x="589.34" fill="#5a56a1"/>
<rect x="597.85" fill="#5a55a0"/>
<rect x="606.35" fill="#5a54a0"/>
<rect x="614.86" fill="#5a54a0"/>
<rect x="623.37" fill="#5a53a0"/>
<rect x="631.87" fill="#5a539f"/>
<rect x="640.38" fill="#5a529f"/>
<rect x="648.88" fill="#5a529f"/>
<rect x="657.39" fill="#5a529f"/>
<rect x="665.90" fill="#5a519f"/>
<rect x="674.40" fill="#5a519f"/>
<rect x="682.91" fill="#5a519e"/>
<rect x="691.41" fill="#5a509e"/>
<rect x="699.92" fill="#5a509e"/>
<rect x="708.43" fill="#5a509e"/>
<rect x="716.93" fill="#5a509e"/>
<rect x="725.44" fill="#5a509e"/>
<rect x="733.94" fill="#5a509e"/>
<rect x="742.45" fill="#5a509e"/>
<rect x="750.96" fill="#5a509e"/>
<rect x="759.46" fill="#5a509e"/>
<rect x="767.97" fill="#5a509e"/>
<rect x="776.47" fill="#5a509e"/>
<rect x="784.98" fill="#5a509e"/>
<rect x="793.49" fill="#5a509e"/>
<rect x="801.99" fill="#5a509e"/>
<rect x="810.50" fill="#5a509e"/>
<rect x="819.00" fill="#5a509e"/>
<rect x="827.51" fill="#5a509e"/>
<rect x="836.02" fill="#5a509e"/>
<rect x="844.52" fill="#5a509e"/>
<rect x="853.03" fill="#5a509e"/>
<rect x="861.53" fill="#5a509e"/>
<rect x="870.04" fill="#5a509e"/>
<rect x="878.55" fill="#5a509e"/>
<rect x="887.05" fill="#5a509e"/>
<rect x="895.56" fill="#5a509e"/>
<rect x="904.06" fill="#5a509e"/>
<rect x="912.57" fill="#5a509e"/>
<rect x="921.08" fill="#5a509e"/>
<rect x="929.58" fill="#5a509e"/>
<rect x="938.09" fill="#5a509e"/>
<rect x="946.59" fill="#5a509e"/>
<rect x="955.10" fill="#5a509e"/>
</g>
<g transform="translate(0,339.500)">
<rect x="359.68" fill="#db7a4d"/>
<rect x="368.19" fill="#fcf5b0"/>
<rect x="376.69" fill="#edf6a1"/>
<rect x="385.20" fill="#c1e0a4"/>
<rect x="393.70" fill="#a1cea5"/>
<rect x="402.21" fill="#87c0a5"/>
<rect x="410.72" fill="#72a4af"/>
<rect x="419.22" fill="#6999b3"/>
<rect x="427.73" fill="#5c8cb8"/>
<rect x="436.23" fill="#5783b8"/>
<rect x="444.74" fill="#587cb4"/>
<rect x="453.25" fill="#5976b1"/>
<rect x="461.75" fill="#5971af"/>
<rect x="470.26" fill="#596dac"/>
<rect x="478.76" fill="#5a6aab"/>
<rect x="487.27" fill="#5a67a9"/>
<rect x="495.78" fill="#5a64a8"/>
<rect x="504.28" fill="#5a62a7"/>
<rect x="512.79" fill="#5a60a6"/>
<rect x="521.29" fill="#5a5ea5"/>
<rect x="529.80" fill="#5a5da4"/>
<rect x="538.31" fill="#5a5ba4"/>
<rect x="546.81" fill="#5a5aa3"/>
<rect x="555.32" fill="#5a59a2"/>
<rect x="563.82" fill="#5a58a2"/>
<rect x="572.33" fill="#5a57a2"/>
<rect x="580.84" fill="#5a56a1"/>
<rect x="589.34" fill="#5a56a1"/>
<rect x="597.85" fill="#5a55a0"/>
<rect x="606.35" fill="#5a54a0"/>
<rect x="614.86" fill="#5a54a0"/>
<rect x="623.37" fill="#5a53a0"/>
<rect x="631.87" fill="#5a539f"/>
<rect x="640.38" fill="#5a529f"/>
<rect x="648.88" fill="#5a529f"/>
<rect x="657.39" fill="#5a519f"/>
<rect x="665.90" fill="#5a519f"/>
<rect x="674.40" fill="#5a519f"/>
<rect x="682.91" fill="#5a519e"/>
<rect x="691.41" fill="#5a509e"/>
<rect x="699.92" fill="#5a509e"/>
<rect x="708.43" fill="#5a509e"/>
<rect x="716.93" fill="#5a509e"/>
<rect x="725.44" fill="#5a509e"/>
<rect x="733.94" fill="#5a509e"/>
<rect x="742.45" fill="#5a509e"/>
<rect x="750.96" fill="#5a509e"/>
<rect x="759.46" fill="#5a509e"/>
<rect x="767.97" fill="#5a509e"/>
<rect x="776.47" fill="#5a509e"/>
<rect x="784.98" fill="#5a509e"/>
<rect x="793.49" fill="#5a509e"/>
<rect x="801.99" fill="#5a509e"/>
<rect x="810.50" fill="#5a509e"/>
<rect x="819.00" fill="#5a509e"/>
<rect x="827.51" fill="#5a509e"/>
<rect x="836.02" fill="#5a509e"/>
<rect x="844.52" fill="#5a509e"/>
<rect x="853.03" fill="#5a509e"/>
<rect x="861.53" fill="#5a509e"/>
<rect x="870.04" fill="#5a509e"/>
<rect x="878.55" fill="#5a509e"/>
<rect x="887.05" fill="#5a509e"/>
<rect x="895.56" fill="#5a509e"/>
<rect x="904.06" fill="#5a509e"/>
<rect x="912.57" fill="#5a509e"/>
<rect x="921.08" fill="#5a509e"/>
<rect x="929.58" fill="#5a509e"/>
<rect x="938.09" fill="#5a509e"/>
<rect x="946.59" fill="#5a509e"/>
<rect x="955.10" fill="#5a509e"/>
</g>
<g transform="translate(0,361.530)">
<rect x="359.68" fill="#db7a4d"/>
<rect x="368.19" fill="#faeea6"/>
<rect x="376.69" fill="#edf6a1"/>
<rect x="385.20" fill="#b1d7a5"/>
<rect x="393.70" fill="#99caa5"/>
<rect x="402.21" fill="#87c0a5"/>
<rect x="410.72" fill="#72a4af"/>
<rect x="419.22" fill="#6e9fb1"/>
<rect x="427.73" fill="#5d8db8"/>
<rect x="436.23" fill="#5784b8"/>
<rect x="444.74" fill="#587cb4"/>
<rect x="453.25" fill="#5977b1"/>
<rect x="461.75" fill="#5972af"/>
<rect x="470.26" fill="#596dad"/>
<rect x="478.76" fill="#5a6aab"/>
<rect x="487.27" fill="#5a67a9"/>
<rect x="495.78" fill="#5a64a8"/>
<rect x="504.28" fill="#5a62a7"/>
<rect x="512.79" fill="#5a60a6"/>
<rect x="521.29" fill="#5a5ea5"/>
<rect x="529.80" fill="#5a5da4"/>
<rect x="538.31" fill="#5a5ba4"/>
<rect x="546.81" fill="#5a5aa3"/>
<rect x="555.32" fill="#5a59a3"/>
<rect x="563.82" fill="#5a58a2"/>
<rect x="572.33" fill="#5a57a2"/>
<rect x="580.84" fill="#5a56a1"/>
<rect x="589.34" fill="#5a56a1"/>
<rect x="597.85" fill="#5a55a1"/>
<rect x="606.35" fill="#5a54a0"/>
<rect x="614.86" fill="#5a54a0"/>
<rect x="623.37" fill="#5a53a0"/>
<rect x="631.87" fill="#5a539f"/>
<rect x="640.38" fill="#5a529f"/>
<rect x="648.88" fill="#5a529f"/>
<rect x="657.39" fill="#5a529f"/>
<rect x="665.90" fill="#5a519f"/>
<rect x="674.40" fill="#5a519f"/>
<rect x="682.91" fill="#5a519e"/>
<rect x="691.41" fill="#5a509e"/>
<rect x="699.92" fill="#5a509e"/>
<rect x="708.43" fill="#5a509e"/>
<rect x="716.93" fill="#5a509e"/>
<rect x="725.44" fill="#5a509e"/>
<rect x="733.94" fill="#5a509e"/>
<rect x="742.45" fill="#5a509e"/>
<rect x="750.96" fill="#5a509e"/>
<rect x="759.46" fill="#5a509e"/>
<rect x="767.97" fill="#5a509e"/>
<rect x="776.47" fill="#5a509e"/>
<rect x="784.98" fill="#5a509e"/>
<rect x="793.49" fill="#5a509e"/>
<rect x="801.99" fill="#5a509e"/>
<rect x="810.50" fill="#5a509e"/>
<rect x="819.00" fill="#5a509e"/>
<rect x="827.51" fill="#5a509e"/>
<rect x="836.02" fill="#5a509e"/>
<rect x="844.52" fill="#5a509e"/>
<rect x="853.03" fill="#5a509e"/>
<rect x="861.53" fill="#5a509e"/>
<rect x="870.04" fill="#5a509e"/>
<rect x="878.55" fill="#5a509e"/>
<rect x="887.05" fill="#5a509e"/>
<rect x="895.56" fill="#5a509e"/>
<rect x="904.06" fill="#5a509e"/>
<rect x="912.57" fill="#5a509e"/>
<rect x="921.08" fill="#5a509e"/>
<rect x="929.58" fill="#5a509e"/>
<rect x="938.09" fill="#5a509e"/>
<rect x="946.59" fill="#5a509e"/>
<rect x="955.10" fill="#5a509e"/>
</g>
<g transform="translate(0,383.560)">
<rect x="359.68" fill="#de8351"/>
<rect x="368.19" fill="#faeea6"/>
<rect x="376.69" fill="#eff7a5"/>
<rect x="385.20" fill="#c9e4a3"/>
<rect x="393.70" fill="#99caa5"/>
<rect x="402.21" fill="#87c0a5"/>
<rect x="410.72" fill="#7bafab"/>
<rect x="419.22" fill="#6999b3"/>
<rect x="427.73" fill="#5e8db7"/>
<rect x="436.23" fill="#5784b8"/>
<rect x="444.74" fill="#587db5"/>
<rect x="453.25" fill="#5977b2"/>
<rect x="461.75" fill="#5972af"/>
<rect x="470.26" fill="#596ead"/>
<rect x="478.76" fill="#5a6aab"/>
<rect x="487.27" fill="#5a67aa"/>
<rect x="495.78" fill="#5a65a8"/>
<rect x="504.28" fill="#5a62a7"/>
<rect x="512.79" fill="#5a60a6"/>
<rect x="521.29" fill="#5a5fa5"/>
<rect x="529.80" fill="#5a5da4"/>
<rect x="538.31" fill="#5a5ca4"/>
<rect x="546.81" fill="#5a5aa3"/>
<rect x="555.32" fill="#5a59a3"/>
<rect x="563.82" fill="#5a58a2"/>
<rect x="572.33" fill="#5a57a2"/>
<rect x="580.84" fill="#5a57a1"/>
<rect x="589.34" fill="#5a56a1"/>
<rect x="597.85" fill="#5a55a1"/>
<rect x="606.35" fill="#5a55a0"/>
<rect x="614.86" fill="#5a54a0"/>
<rect x="623.37" fill="#5a53a0"/>
<rect x="631.87" fill="#5a53a0"/>
<rect x="640.38" fill="#5a529f"/>
<rect x="648.88" fill="#5a529f"/>
<rect x="657.39" fill="#5a529f"/>
<rect x="665.90" fill="#5a519f"/>
<rect x="674.40" fill="#5a519f"/>
<rect x="682.91" fill="#5a519e"/>
<rect x="691.41" fill="#5a509e"/>
<rect x="699.92" fill="#5a509e"/>
<rect x="708.43" fill="#5a509e"/>
<rect x="716.93" fill="#5a509e"/>
<rect x="725.44" fill="#5a509e"/>
<rect x="733.94" fill="#5a509e"/>
<rect x="742.45" fill="#5a509e"/>
<rect x="750.96" fill="#5a509e"/>
<rect x="759.46" fill="#5a509e"/>
<rect x="767.97" fill="#5a509e"/>
<rect x="776.47" fill="#5a509e"/>
<rect x="784.98" fill="#5a509e"/>
<rect x="793.49" fill="#5a509e"/>
<rect x="801.99" fill="#5a509e"/>
<rect x="810.50" fill="#5a509e"/>
<rect x="819.00" fill="#5a509e"/>
<rect x="827.51" fill="#5a509e"/>
<rect x="836.02" fill="#5a509e"/>
<rect x="844.52" fill="#5a509e"/>
<rect x="853.03" fill="#5a509e"/>
<rect x="861.53" fill="#5a509e"/>
<rect x="870.04" fill="#5a509e"/>
<rect x="878.55" fill="#5a509e"/>
<rect x="887.05" fill="#5a509e"/>
<rect x="895.56" fill="#5a509e"/>
<rect x="904.06" fill="#5a509e"/>
<rect x="912.57" fill="#5a509e"/>
<rect x="921.08" fill="#5a509e"/>
<rect x="929.58" fill="#5a509e"/>
<rect x="938.09" fill="#5a509e"/>
<rect x="946.59" fill="#5a509e"/>
<rect x="955.10" fill="#5a509e"/>
</g>
<g transform="translate(0,405.590)">
<rect x="351.17" fill="#880d43"/>
<rect x="359.68" fill="#e4985b"/>
<rect x="368.19" fill="#ffffc1"/>
<rect x="376.69" fill="#e4f29d"/>
<rect x="385.20" fill="#c0dfa4"/>
<rect x="393.70" fill="#9acba5"/>
<rect x="402.21" fill="#86bfa6"/>
<rect x="410.72" fill="#75a7ae"/>
<rect x="419.22" fill="#6d9eb1"/>
<rect x="427.73" fill="#5c8cb8"/>
<rect x="436.23" fill="#5785b9"/>
<rect x="444.74" fill="#587fb6"/>
<rect x="453.25" fill="#5978b2"/>
<rect x="461.75" fill="#5970ae"/>
<rect x="470.26" fill="#596ead"/>
<rect x="478.76" fill="#5a6bab"/>
<rect x="487.27" fill="#5a68aa"/>
<rect x="495.78" fill="#5a65a8"/>
<rect x="504.28" fill="#5a63a7"/>
<rect x="512.79" fill="#5a61a6"/>
<rect x="521.29" fill="#5a5fa5"/>
<rect x="529.80" fill="#5a5da5"/>
<rect x="538.31" fill="#5a5ca4"/>
<rect x="546.81" fill="#5a5ba3"/>
<rect x="555.32" fill="#5a5aa3"/>
<rect x="563.82" fill="#5a59a2"/>
<rect x="572.33" fill="#5a58a2"/>
<rect x="580.84" fill="#5a57a1"/>
<rect x="589.34" fill="#5a56a1"/>
<rect x="597.85" fill="#5a55a1"/>
<rect x="606.35" fill="#5a55a0"/>
<rect x="614.86" fill="#5a54a0"/>
<rect x="623.37" fill="#5a54a0"/>
<rect x="631.87" fill="#5a53a0"/>
<rect x="640.38" fill="#5a539f"/>
<rect x="648.88" fill="#5a529f"/>
<rect x="657.39" fill="#5a529f"/>
<rect x="665.90" fill="#5a519f"/>
<rect x="674.40" fill="#5a519f"/>
<rect x="682.91" fill="#5a519f"/>
<rect x="691.41" fill="#5a519e"/>
<rect x="699.92" fill="#5a509e"/>
<rect x="708.43" fill="#5a509e"/>
<rect x="716.93" fill="#5a509e"/>
<rect x="725.44" fill="#5a509e"/>
<rect x="733.94" fill="#5a509e"/>
<rect x="742.45" fill="#5a509e"/>
<rect x="750.96" fill="#5a509e"/>
<rect x="759.46" fill="#5a509e"/>
<rect x="767.97" fill="#5a509e"/>
<rect x="776.47" fill="#5a509e"/>
<rect x="784.98" fill="#5a509e"/>
<rect x="793.49" fill="#5a509e"/>
<rect x="801.99" fill="#5a509e"/>
<rect x="810.50" fill="#5a509e"/>
<rect x="819.00" fill="#5a509e"/>
<rect x="827.51" fill="#5a509e"/>
<rect x="836.02" fill="#5a509e"/>
<rect x="844.52" fill="#5a509e"/>
<rect x="853.03" fill="#5a509e"/>
<rect x="861.53" fill="#5a509e"/>
<rect x="870.04" fill="#5a509e"/>
<rect x="878.55" fill="#5a509e"/>
<rect x="887.05" fill="#5a509e"/>
<rect x="895.56" fill="#5a509e"/>
<rect x="904.06" fill="#5a509e"/>
<rect x="912.57" fill="#5a509e"/>
<rect x="921.08" fill="#5a509e"/>
<rect x="929.58" fill="#5a509e"/>
<rect x="938.09" fill="#5a509e"/>
<rect x="946.59" fill="#5a509e"/>
<rect x="955.10" fill="#5a509e"/>
</g>
<g transform="translate(0,427.620)">
<rect x="351.17" fill="#860643"/>
<rect x="359.68" fill="#de8251"/>
<rect x="368.19" fill="#f9e89d"/>
<rect x="376.69" fill="#e4f29d"/>
<rect x="385.20" fill="#c0dfa4"/>
<rect x="393.70" fill="#a0cea5"/>
<rect x="402.21" fill="#82b9a8"/>
<rect x="410.72" fill="#72a4af"/>
<rect x="419.22" fill="#6d9eb1"/>
<rect x="427.73" fill="#5c8cb8"/>
<rect x="436.23" fill="#5785b9"/>
<rect x="444.74" fill="#587fb6"/>
<rect x="453.25" fill="#5978b2"/>
<rect x="461.75" fill="#5970ae"/>
<rect x="470.26" fill="#596ead"/>
<rect x="478.76" fill="#5a6bab"/>
<rect x="487.27" fill="#5a68aa"/>
<rect x="495.78" fill="#5a65a8"/>
<rect x="504.28" fill="#5a63a7"/>
<rect x="512.79" fill="#5a61a6"/>
<rect x="521.29" fill="#5a5fa5"/>
<rect x="529.80" fill="#5a5ea5"/>
<rect x="538.31" fill="#5a5ca4"/>
<rect x="546.81" fill="#5a5ba3"/>
<rect x="555.32" fill="#5a5aa3"/>
<rect x="563.82" fill="#5a59a2"/>
<rect x="572.33" fill="#5a58a2"/>
<rect x="580.84" fill="#5a57a1"/>
<rect x="589.34" fill="#5a56a1"/>
<rect x="597.85" fill="#5a56a1"/>
<rect x="606.35" fill="#5a55a0"/>
<rect x="614.86" fill="#5a54a0"/>
<rect x="623.37" fill="#5a54a0"/>
<rect x="631.87" fill="#5a53a0"/>
<rect x="640.38" fill="#5a539f"/>
<rect x="648.88" fill="#5a529f"/>
<rect x="657.39" fill="#5a529f"/>
<rect x="665.90" fill="#5a529f"/>
<rect x="674.40" fill="#5a519f"/>
<rect x="682.91" fill="#5a519f"/>
<rect x="691.41" fill="#5a519e"/>
<rect x="699.92" fill="#5a509e"/>
<rect x="708.43" fill="#5a509e"/>
<rect x="716.93" fill="#5a509e"/>
<rect x="725.44" fill="#5a509e"/>
<rect x="733.94" fill="#5a509e"/>
<rect x="742.45" fill="#5a509e"/>
<rect x="750.96" fill="#5a509e"/>
<rect x="759.46" fill="#5a509e"/>
<rect x="767.97" fill="#5a509e"/>
<rect x="776.47" fill="#5a509e"/>
<rect x="784.98" fill="#5a509e"/>
<rect x="793.49" fill="#5a509e"/>
<rect x="801.99" fill="#5a509e"/>
<rect x="810.50" fill="#5a509e"/>
<rect x="819.00" fill="#5a509e"/>
<rect x="827.51" fill="#5a509e"/>
<rect x="836.02" fill="#5a509e"/>
<rect x="844.52" fill="#5a509e"/>
<rect x="853.03" fill="#5a509e"/>
<rect x="861.53" fill="#5a509e"/>
<rect x="870.04" fill="#5a509e"/>
<rect x="878.55" fill="#5a509e"/>
<rect x="887.05" fill="#5a509e"/>
<rect x="895.56" fill="#5a509e"/>
<rect x="904.06" fill="#5a509e"/>
<rect x="912.57" fill="#5a509e"/>
<rect x="921.08" fill="#5a509e"/>
<rect x="929.58" fill="#5a509e"/>
<rect x="938.09" fill="#5a509e"/>
<rect x="946.59" fill="#5a509e"/>
<rect x="955.10" fill="#5a509e"/>
</g>
<g transform="translate(0,449.650)">
<rect x="351.17" fill="#a32e4a"/>
<rect x="359.68" fill="#e29258"/>
<rect x="368.19" fill="#fffdbe"/>
<rect x="376.69" fill="#e9f49c"/>
<rect x="385.20" fill="#b6daa5"/>
<rect x="393.70" fill="#9acba5"/>
<rect x="402.21" fill="#7bb0ab"/>
<rect x="410.72" fill="#72a4af"/>
<rect x="419.22" fill="#6d9eb1"/>
<rect x="427.73" fill="#5c8cb8"/>
<rect x="436.23" fill="#5787ba"/>
<rect x="444.74" fill="#587fb6"/>
<rect x="453.25" fill="#5879b3"/>
<rect x="461.75" fill="#5974b0"/>
<rect x="470.26" fill="#5970ae"/>
<rect x="478.76" fill="#5a6cac"/>
<rect x="487.27" fill="#5a69aa"/>
<rect x="495.78" fill="#5a66a9"/>
<rect x="504.28" fill="#5a64a8"/>
<rect x="512.79" fill="#5a62a7"/>
<rect x="521.29" fill="#5a60a6"/>
<rect x="529.80" fill="#5a5ea5"/>
<rect x="538.31" fill="#5a5da4"/>
<rect x="546.81" fill="#5a5ca4"/>
<rect x="555.32" fill="#5a5aa3"/>
<rect x="563.82" fill="#5a59a3"/>
<rect x="572.33" fill="#5a58a2"/>
<rect x="580.84" fill="#5a57a2"/>
<rect x="589.34" fill="#5a57a1"/>
<rect x="597.85" fill="#5a56a1"/>
<rect x="606.35" fill="#5a55a1"/>
<rect x="614.86" fill="#5a55a0"/>
<rect x="623.37" fill="#5a54a0"/>
<rect x="631.87" fill="#5a54a0"/>
<rect x="640.38" fill="#5a53a0"/>
<rect x="648.88" fill="#5a539f"/>
<rect x="657.39" fill="#5a529f"/>
<rect x="665.90" fill="#5a529f"/>
<rect x="674.40" fill="#5a529f"/>
<rect x="682.91" fill="#5a519f"/>
<rect x="691.41" fill="#5a519f"/>
<rect x="699.92" fill="#5a519e"/>
<rect x="708.43" fill="#5a509e"/>
<rect x="716.93" fill="#5a509e"/>
<rect x="725.44" fill="#5a509e"/>
<rect x="733.94" fill="#5a509e"/>
<rect x="742.45" fill="#5a509e"/>
<rect x="750.96" fill="#5a509e"/>
<rect x="759.46" fill="#5a509e"/>
<rect x="767.97" fill="#5a509e"/>
<rect x="776.47" fill="#5a509e"/>
<rect x="784.98" fill="#5a509e"/>
<rect x="793.49" fill="#5a509e"/>
<rect x="801.99" fill="#5a509e"/>
<rect x="810.50" fill="#5a509e"/>
<rect x="819.00" fill="#5a509e"/>
<rect x="827.51" fill="#5a509e"/>
<rect x="836.02" fill="#5a509e"/>
<rect x="844.52" fill="#5a509e"/>
<rect x="853.03" fill="#5a509e"/>
<rect x="861.53" fill="#5a509e"/>
<rect x="870.04" fill="#5a509e"/>
<rect x="878.55" fill="#5a509e"/>
<rect x="887.05" fill="#5a509e"/>
<rect x="895.56" fill="#5a509e"/>
<rect x="904.06" fill="#5a509e"/>
<rect x="912.57" fill="#5a509e"/>
<rect x="921.08" fill="#5a509e"/>
<rect x="929.58" fill="#5a509e"/>
<rect x="938.09" fill="#5a509e"/>
<rect x="946.59" fill="#5a509e"/>
<rect x="955.10" fill="#5a509e"/>
</g>
<g transform="translate(0,471.680)">
<rect x="351.17" fill="#a7314b"/>
<rect x="359.68" fill="#eebe73"/>
<rect x="368.19" fill="#fcfdbb"/>
<rect x="376.69" fill="#e4f29d"/>
<rect x="385.20" fill="#b1d7a5"/>
<rect x="393.70" fill="#9acba5"/>
<rect x="402.21" fill="#87c0a5"/>
<rect x="410.72" fill="#6d9eb1"/>
<rect x="419.22" fill="#6898b3"/>
<rect x="427.73" fill="#5c8cb8"/>
<rect x="436.23" fill="#5785b9"/>
<rect x="444.74" fill="#587fb6"/>
<rect x="453.25" fill="#5978b2"/>
<rect x="461.75" fill="#5973b0"/>
<rect x="470.26" fill="#596fae"/>
<rect x="478.76" fill="#5a6cac"/>
<rect x="487.27" fill="#5a69aa"/>
<rect x="495.78" fill="#5a66a9"/>
<rect x="504.28" fill="#5a64a8"/>
<rect x="512.79" fill="#5a62a7"/>
<rect x="521.29" fill="#5a60a6"/>
<rect x="529.80" fill="#5a5ea5"/>
<rect x="538.31" fill="#5a5da4"/>
<rect x="546.81" fill="#5a5ca4"/>
<rect x="555.32" fill="#5a5aa3"/>
<rect x="563.82" fill="#5a59a3"/>
<rect x="572.33" fill="#5a58a2"/>
<rect x="580.84" fill="#5a58a2"/>
<rect x="589.34" fill="#5a57a1"/>
<rect x="597.85" fill="#5a56a1"/>
<rect x="606.35" fill="#5a55a1"/>
<rect x="614.86" fill="#5a55a0"/>
<rect x="623.37" fill="#5a54a0"/>
<rect x="631.87" fill="#5a54a0"/>
<rect x="640.38" fill="#5a53a0"/>
<rect x="648.88" fill="#5a539f"/>
<rect x="657.39" fill="#5a529f"/>
<rect x="665.90" fill="#5a529f"/>
<rect x="674.40" fill="#5a529f"/>
<rect x="682.91" fill="#5a519f"/>
<rect x="691.41" fill="#5a519f"/>
<rect x="699.92" fill="#5a519e"/>
<rect x="708.43" fill="#5a509e"/>
<rect x="716.93" fill="#5a509e"/>
<rect x="725.44" fill="#5a509e"/>
<rect x="733.94" fill="#5a509e"/>
<rect x="742.45" fill="#5a509e"/>
<rect x="750.96" fill="#5a509e"/>
<rect x="759.46" fill="#5a509e"/>
<rect x="767.97" fill="#5a509e"/>
<rect x="776.47" fill="#5a509e"/>
<rect x="784.98" fill="#5a509e"/>
<rect x="793.49" fill="#5a509e"/>
<rect x="801.99" fill="#5a509e"/>
<rect x="810.50" fill="#5a509e"/>
<rect x="819.00" fill="#5a509e"/>
<rect x="827.51" fill="#5a509e"/>
<rect x="836.02" fill="#5a509e"/>
<rect x="844.52" fill="#5a509e"/>
<rect x="853.03" fill="#5a509e"/>
<rect x="861.53" fill="#5a509e"/>
<rect x="870.04" fill="#5a509e"/>
<rect x="878.55" fill="#5a509e"/>
<rect x="887.05" fill="#5a509e"/>
<rect x="895.56" fill="#5a509e"/>
<rect x="904.06" fill="#5a509e"/>
<rect x="912.57" fill="#5a509e"/>
<rect x="921.08" fill="#5a509e"/>
<rect x="929.58" fill="#5a509e"/>
<rect x="938.09" fill="#5a509e"/>
<rect x="946.59" fill="#5a509e"/>
<rect x="955.10" fill="#5a509e"/>
</g>
<g transform="translate(0,493.710)">
<rect x="351.17" fill="#c8584c"/>
<rect x="359.68" fill="#ecb76e"/>
<rect x="368.19" fill="#fafcb7"/>
<rect x="376.69" fill="#d1e8a1"/>
<rect x="385.20" fill="#b9dba5"/>
<rect x="393.70" fill="#93c7a5"/>
<rect x="402.21" fill="#87c0a5"/>
<rect x="410.72" fill="#72a4af"/>
<rect x="419.22" fill="#6898b3"/>
<rect x="427.73" fill="#5c8cb8"/>
<rect x="436.23" fill="#5786b9"/>
<rect x="444.74" fill="#587fb6"/>
<rect x="453.25" fill="#5879b2"/>
<rect x="461.75" fill="#5974b0"/>
<rect x="470.26" fill="#5970ae"/>
<rect x="478.76" fill="#5a6cac"/>
<rect x="487.27" fill="#5a69aa"/>
<rect x="495.78" fill="#5a66a9"/>
<rect x="504.28" fill="#5a64a8"/>
<rect x="512.79" fill="#5a62a7"/>
<rect x="521.29" fill="#5a60a6"/>
<rect x="529.80" fill="#5a5fa5"/>
<rect x="538.31" fill="#5a5da5"/>
<rect x="546.81" fill="#5a5ca4"/>
<rect x="555.32" fill="#5a5ba3"/>
<rect x="563.82" fill="#5a5aa3"/>
<rect x="572.33" fill="#5a59a2"/>
<rect x="580.84" fill="#5a58a2"/>
<rect x="589.34" fill="#5a57a2"/>
<rect x="597.85" fill="#5a56a1"/>
<rect x="606.35" fill="#5a56a1"/>
<rect x="614.86" fill="#5a55a1"/>
<rect x="623.37" fill="#5a55a0"/>
<rect x="631.87" fill="#5a54a0"/>
<rect x="640.38" fill="#5a54a0"/>
<rect x="648.88" fill="#5a53a0"/>
<rect x="657.39" fill="#5a539f"/>
<rect x="665.90" fill="#5a529f"/>
<rect x="674.40" fill="#5a529f"/>
<rect x="682.91" fill="#5a529f"/>
<rect x="691.41" fill="#5a519f"/>
<rect x="699.92" fill="#5a519f"/>
<rect x="708.43" fill="#5a519e"/>
<rect x="716.93" fill="#5a509e"/>
<rect x="725.44" fill="#5a509e"/>
<rect x="733.94" fill="#5a509e"/>
<rect x="742.45" fill="#5a509e"/>
<rect x="750.96" fill="#5a509e"/>
<rect x="759.46" fill="#5a509e"/>
<rect x="767.97" fill="#5a509e"/>
<rect x="776.47" fill="#5a509e"/>
<rect x="784.98" fill="#5a509e"/>
<rect x="793.49" fill="#5a509e"/>
<rect x="801.99" fill="#5a509e"/>
<rect x="810.50" fill="#5a509e"/>
<rect x="819.00" fill="#5a509e"/>
<rect x="827.51" fill="#5a509e"/>
<rect x="836.02" fill="#5a509e"/>
<rect x="844.52" fill="#5a509e"/>
<rect x="853.03" fill="#5a509e"/>
<rect x="861.53" fill="#5a509e"/>
<rect x="870.04" fill="#5a509e"/>
<rect x="878.55" fill="#5a509e"/>
<rect x="887.05" fill="#5a509e"/>
<rect x="895.56" fill="#5a509e"/>
<rect x="904.06" fill="#5a509e"/>
<rect x="912.57" fill="#5a509e"/>
<rect x="921.08" fill="#5a509e"/>
<rect x="929.58" fill="#5a509e"/>
<rect x="938.09" fill="#5a509e"/>
<rect x="946.59" fill="#5a509e"/>
<rect x="955.10" fill="#5a509e"/>
</g>
<g transform="translate(0,515.740)">
<rect x="351.17" fill="#c8584c"/>
<rect x="359.68" fill="#f2cf81"/>
<rect x="368.19" fill="#edf6a1"/>
<rect x="376.69" fill="#c5e2a3"/>
<rect x="385.20" fill="#aad3a5"/>
<rect x="393.70" fill="#93c7a5"/>
<rect x="402.21" fill="#7bb0ab"/>
<rect x="410.72" fill="#75a7ae"/>
<rect x="419.22" fill="#6898b3"/>
<rect x="427.73" fill="#5c8cb8"/>
<rect x="436.23" fill="#5785b9"/>
<rect x="444.74" fill="#587fb6"/>
<rect x="453.25" fill="#5978b2"/>
<rect x="461.75" fill="#5974b0"/>
<rect x="470.26" fill="#5970ae"/>
<rect x="478.76" fill="#5a6cac"/>
<rect x="487.27" fill="#5a69ab"/>
<rect x="495.78" fill="#5a67a9"/>
<rect x="504.28" fill="#5a64a8"/>
<rect x="512.79" fill="#5a62a7"/>
<rect x="521.29" fill="#5a60a6"/>
<rect x="529.80" fill="#5a5fa5"/>
<rect x="538.31" fill="#5a5da5"/>
<rect x="546.81" fill="#5a5ca4"/>
<rect x="555.32" fill="#5a5ba3"/>
<rect x="563.82" fill="#5a5aa3"/>
<rect x="572.33" fill="#5a59a2"/>
<rect x="580.84" fill="#5a58a2"/>
<rect x="589.34" fill="#5a57a2"/>
<rect x="597.85" fill="#5a57a1"/>
<rect x="606.35" fill="#5a56a1"/>
<rect x="614.86" fill="#5a55a1"/>
<rect x="623.37" fill="#5a55a0"/>
<rect x="631.87" fill="#5a54a0"/>
<rect x="640.38" fill="#5a54a0"/>
<rect x="648.88" fill="#5a53a0"/>
<rect x="657.39" fill="#5a539f"/>
<rect x="665.90" fill="#5a529f"/>
<rect x="674.40" fill="#5a529f"/>
<rect x="682.91" fill="#5a529f"/>
<rect x="691.41" fill="#5a519f"/>
<rect x="699.92" fill="#5a519f"/>
<rect x="708.43" fill="#5a519e"/>
<rect x="716.93" fill="#5a509e"/>
<rect x="725.44" fill="#5a509e"/>
<rect x="733.94" fill="#5a509e"/>
<rect x="742.45" fill="#5a509e"/>
<rect x="750.96" fill="#5a509e"/>
<rect x="759.46" fill="#5a509e"/>
<rect x="767.97" fill="#5a509e"/>
<rect x="776.47" fill="#5a509e"/>
<rect x="784.98" fill="#5a509e"/>
<rect x="793.49" fill="#5a509e"/>
<rect x="801.99" fill="#5a509e"/>
<rect x="810.50" fill="#5a509e"/>
<rect x="819.00" fill="#5a509e"/>
<rect x="827.51" fill="#5a509e"/>
<rect x="836.02" fill="#5a509e"/>
<rect x="844.52" fill="#5a509e"/>
<rect x="853.03" fill="#5a509e"/>
<rect x="861.53" fill="#5a509e"/>
<rect x="870.04" fill="#5a509e"/>
<rect x="878.55" fill="#5a509e"/>
<rect x="887.05" fill="#5a509e"/>
<rect x="895.56" fill="#5a509e"/>
<rect x="904.06" fill="#5a509e"/>
<rect x="912.57" fill="#5a509e"/>
<rect x="921.08" fill="#5a509e"/>
<rect x="929.58" fill="#5a509e"/>
<rect x="938.09" fill="#5a509e"/>
<rect x="946.59" fill="#5a509e"/>
<rect x="955.10" fill="#5a509e"/>
</g>
<g transform="translate(0,537.770)">
<rect x="342.67" fill="#860643"/>
<rect x="351.17" fill="#e4985b"/>
<rect x="359.68" fill="#f7e496"/>
<rect x="368.19" fill="#eff7a5"/>
<rect x="376.69" fill="#c7e3a3"/>
<rect x="385.20" fill="#a0cea5"/>
<rect x="393.70" fill="#93c7a5"/>
<rect x="402.21" fill="#82b9a8"/>
<rect x="410.72" fill="#6d9eb1"/>
<rect x="419.22" fill="#6090b7"/>
<rect x="427.73" fill="#6393b6"/>
<rect x="436.23" fill="#5787ba"/>
<rect x="444.74" fill="#587ab3"/>
<rect x="453.25" fill="#587ab3"/>
<rect x="461.75" fill="#5974b0"/>
<rect x="470.26" fill="#5970ae"/>
<rect x="478.76" fill="#5a6dac"/>
<rect x="487.27" fill="#5a6aab"/>
<rect x="495.78" fill="#5a67aa"/>
<rect x="504.28" fill="#5a65a8"/>
<rect x="512.79" fill="#5a63a7"/>
<rect x="521.29" fill="#5a61a6"/>
<rect x="529.80" fill="#5a5fa6"/>
<rect x="538.31" fill="#5a5ea5"/>
<rect x="546.81" fill="#5a5da4"/>
<rect x="555.32" fill="#5a5ba4"/>
<rect x="563.82" fill="#5a5aa3"/>
<rect x="572.33" fill="#5a59a3"/>
<rect x="580.84" fill="#5a58a2"/>
<rect x="589.34" fill="#5a58a2"/>
<rect x="597.85" fill="#5a57a1"/>
<rect x="606.35" fill="#5a56a1"/>
<rect x="614.86" fill="#5a56a1"/>
<rect x="623.37" fill="#5a55a1"/>
<rect x="631.87" fill="#5a54a0"/>
<rect x="640.38" fill="#5a54a0"/>
<rect x="648.88" fill="#5a53a0"/>
<rect x="657.39" fill="#5a53a0"/>
<rect x="665.90" fill="#5a539f"/>
<rect x="674.40" fill="#5a529f"/>
<rect x="682.91" fill="#5a529f"/>
<rect x="691.41" fill="#5a529f"/>
<rect x="699.92" fill="#5a519f"/>
<rect x="708.43" fill="#5a519f"/>
<rect x="716.93" fill="#5a519e"/>
<rect x="725.44" fill="#5a509e"/>
<rect x="733.94" fill="#5a509e"/>
<rect x="742.45" fill="#5a509e"/>
<rect x="750.96" fill="#5a509e"/>
<rect x="759.46" fill="#5a509e"/>
<rect x="767.97" fill="#5a509e"/>
<rect x="776.47" fill="#5a509e"/>
<rect x="784.98" fill="#5a509e"/>
<rect x="793.49" fill="#5a509e"/>
<rect x="801.99" fill="#5a509e"/>
<rect x="810.50" fill="#5a509e"/>
<rect x="819.00" fill="#5a509e"/>
<rect x="827.51" fill="#5a509e"/>
<rect x="836.02" fill="#5a509e"/>
<rect x="844.52" fill="#5a509e"/>
<rect x="853.03" fill="#5a509e"/>
<rect x="861.53" fill="#5a509e"/>
<rect x="870.04" fill="#5a509e"/>
<rect x="878.55" fill="#5a509e"/>
<rect x="887.05" fill="#5a509e"/>
<rect x="895.56" fill="#5a509e"/>
<rect x="904.06" fill="#5a509e"/>
<rect x="912.57" fill="#5a509e"/>
<rect x="921.08" fill="#5a509e"/>
<rect x="929.58" fill="#5a509e"/>
<rect x="938.09" fill="#5a509e"/>
<rect x="946.59" fill="#5a509e"/>
<rect x="955.10" fill="#5a509e"/>
</g>
<g transform="translate(0,559.800)">
<rect x="342.67" fill="#9f2a49"/>
<rect x="351.17" fill="#e8a863"/>
<rect x="359.68" fill="#fbf2ac"/>
<rect x="368.19" fill="#f6fbb2"/>
<rect x="376.69" fill="#c7e3a3"/>
<rect x="385.20" fill="#aad3a5"/>
<rect x="393.70" fill="#9acba5"/>
<rect x="402.21" fill="#7bb0ab"/>
<rect x="410.72" fill="#6d9eb1"/>
<rect x="419.22" fill="#6898b3"/>
<rect x="427.73" fill="#5c8cb8"/>
<rect x="436.23" fill="#5786b9"/>
<rect x="444.74" fill="#587fb6"/>
<rect x="453.25" fill="#587ab3"/>
<rect x="461.75" fill="#5975b0"/>
<rect x="470.26" fill="#5971ae"/>
<rect x="478.76" fill="#596dad"/>
<rect x="487.27" fill="#5a6aab"/>
<rect x="495.78" fill="#5a68aa"/>
<rect x="504.28" fill="#5a65a9"/>
<rect x="512.79" fill="#5a63a7"/>
<rect x="521.29" fill="#5a61a7"/>
<rect x="529.80" fill="#5a60a6"/>
<rect x="538.31" fill="#5a5ea5"/>
<rect x="546.81" fill="#5a5da4"/>
<rect x="555.32" fill="#5a5ca4"/>
<rect x="563.82" fill="#5a5ba3"/>
<rect x="572.33" fill="#5a5aa3"/>
<rect x="580.84" fill="#5a59a2"/>
<rect x="589.34" fill="#5a58a2"/>
<rect x="597.85" fill="#5a57a2"/>
<rect x="606.35" fill="#5a56a1"/>
<rect x="614.86" fill="#5a56a1"/>
<rect x="623.37" fill="#5a55a1"/>
<rect x="631.87" fill="#5a55a0"/>
<rect x="640.38" fill="#5a54a0"/>
<rect x="648.88" fill="#5a54a0"/>
<rect x="657.39" fill="#5a53a0"/>
<rect x="665.90" fill="#5a539f"/>
<rect x="674.40" fill="#5a529f"/>
<rect x="682.91" fill="#5a529f"/>
<rect x="691.41" fill="#5a529f"/>
<rect x="699.92" fill="#5a519f"/>
<rect x="708.43" fill="#5a519f"/>
<rect x="716.93" fill="#5a519f"/>
<rect x="725.44" fill="#5a519e"/>
<rect x="733.94" fill="#5a509e"/>
<rect x="742.45" fill="#5a509e"/>
<rect x="750.96" fill="#5a509e"/>
<rect x="759.46" fill="#5a509e"/>
<rect x="767.97" fill="#5a509e"/>
<rect x="776.47" fill="#5a509e"/>
<rect x="784.98" fill="#5a509e"/>
<rect x="793.49" fill="#5a509e"/>
<rect x="801.99" fill="#5a509e"/>
<rect x="810.50" fill="#5a509e"/>
<rect x="819.00" fill="#5a509e"/>
<rect x="827.51" fill="#5a509e"/>
<rect x="836.02" fill="#5a509e"/>
<rect x="844.52" fill="#5a509e"/>
<rect x="853.03" fill="#5a509e"/>
<rect x="861.53" fill="#5a509e"/>
<rect x="870.04" fill="#5a509e"/>
<rect x="878.55" fill="#5a509e"/>
<rect x="887.05" fill="#5a509e"/>
<rect x="895.56" fill="#5a509e"/>
<rect x="904.06" fill="#5a509e"/>
<rect x="912.57" fill="#5a509e"/>
<rect x="921.08" fill="#5a509e"/>
<rect x="929.58" fill="#5a509e"/>
<rect x="938.09" fill="#5a509e"/>
<rect x="946.59" fill="#5a509e"/>
<rect x="955.10" fill="#5a509e"/>
</g>
<g transform="translate(0,581.830)">
<rect x="342.67" fill="#a7314b"/>
<rect x="351.17" fill="#eebd73"/>
<rect x="359.68" fill="#fefebf"/>
<rect x="368.19" fill="#e2f19d"/>
<rect x="376.69" fill="#b1d7a5"/>
<rect x="385.20" fill="#aad3a5"/>
<rect x="393.70" fill="#9acba5"/>
<rect x="402.21" fill="#7bb0ab"/>
<rect x="410.72" fill="#6695b5"/>
<rect x="419.22" fill="#6898b3"/>
<rect x="427.73" fill="#6090b7"/>
<rect x="436.23" fill="#5785b9"/>
<rect x="444.74" fill="#587fb6"/>
<rect x="453.25" fill="#587ab3"/>
<rect x="461.75" fill="#5975b1"/>
<rect x="470.26" fill="#5971af"/>
<rect x="478.76" fill="#596ead"/>
<rect x="487.27" fill="#5a6bab"/>
<rect x="495.78" fill="#5a68aa"/>
<rect x="504.28" fill="#5a66a9"/>
<rect x="512.79" fill="#5a64a8"/>
<rect x="521.29" fill="#5a62a7"/>
<rect x="529.80" fill="#5a60a6"/>
<rect x="538.31" fill="#5a5fa5"/>
<rect x="546.81" fill="#5a5da5"/>
<rect x="555.32" fill="#5a5ca4"/>
<rect x="563.82" fill="#5a5ba3"/>
<rect x="572.33" fill="#5a5aa3"/>
<rect x="580.84" fill="#5a59a2"/>
<rect x="589.34" fill="#5a58a2"/>
<rect x="597.85" fill="#5a57a2"/>
<rect x="606.35" fill="#5a57a1"/>
<rect x="614.86" fill="#5a56a1"/>
<rect x="623.37" fill="#5a55a1"/>
<rect x="631.87" fill="#5a55a0"/>
<rect x="640.38" fill="#5a54a0"/>
<rect x="648.88" fill="#5a54a0"/>
<rect x="657.39" fill="#5a53a0"/>
<rect x="665.90" fill="#5a53a0"/>
<rect x="674.40" fill="#5a539f"/>
<rect x="682.91" fill="#5a529f"/>
<rect x="691.41" fill="#5a529f"/>
<rect x="699.92" fill="#5a529f"/>
<rect x="708.43" fill="#5a519f"/>
<rect x="716.93" fill="#5a519f"/>
<rect x="725.44" fill="#5a519e"/>
<rect x="733.94" fill="#5a509e"/>
<rect x="742.45" fill="#5a509e"/>
<rect x="750.96" fill="#5a509e"/>
<rect x="759.46" fill="#5a509e"/>
<rect x="767.97" fill="#5a509e"/>
<rect x="776.47" fill="#5a509e"/>
<rect x="784.98" fill="#5a509e"/>
<rect x="793.49" fill="#5a509e"/>
<rect x="801.99" fill="#5a509e"/>
<rect x="810.50" fill="#5a509e"/>
<rect x="819.00" fill="#5a509e"/>
<rect x="827.51" fill="#5a509e"/>
<rect x="836.02" fill="#5a509e"/>
<rect x="844.52" fill="#5a509e"/>
<rect x="853.03" fill="#5a509e"/>
<rect x="861.53" fill="#5a509e"/>
<rect x="870.04" fill="#5a509e"/>
<rect x="878.55" fill="#5a509e"/>
<rect x="887.05" fill="#5a509e"/>
<rect x="895.56" fill="#5a509e"/>
<rect x="904.06" fill="#5a509e"/>
<rect x="912.57" fill="#5a509e"/>
<rect x="921.08" fill="#5a509e"/>
<rect x="929.58" fill="#5a509e"/>
<rect x="938.09" fill="#5a509e"/>
<rect x="946.59" fill="#5a509e"/>
<rect x="955.10" fill="#5a509e"/>
</g>
<g transform="translate(0,603.860)">
<rect x="342.67" fill="#c8584c"/>
<rect x="351.17" fill="#ecb86f"/>
<rect x="359.68" fill="#fafcb7"/>
<rect x="368.19" fill="#e2f19d"/>
<rect x="376.69" fill="#b6daa5"/>
<rect x="385.20" fill="#b1d7a5"/>
<rect x="393.70" fill="#8bc3a5"/>
<rect x="402.21" fill="#7bb0ab"/>
<rect x="410.72" fill="#6d9eb1"/>
<rect x="419.22" fill="#6898b3"/>
<rect x="427.73" fill="#5c8cb8"/>
<rect x="436.23" fill="#5785b9"/>
<rect x="444.74" fill="#587fb6"/>
<rect x="453.25" fill="#5879b3"/>
<rect x="461.75" fill="#5975b0"/>
<rect x="470.26" fill="#5971ae"/>
<rect x="478.76" fill="#596ead"/>
<rect x="487.27" fill="#5a6bab"/>
<rect x="495.78" fill="#5a68aa"/>
<rect x="504.28" fill="#5a66a9"/>
<rect x="512.79" fill="#5a64a8"/>
<rect x="521.29" fill="#5a62a7"/>
<rect x="529.80" fill="#5a60a6"/>
<rect x="538.31" fill="#5a5fa5"/>
<rect x="546.81" fill="#5a5da5"/>
<rect x="555.32" fill="#5a5ca4"/>
<rect x="563.82" fill="#5a5ba3"/>
<rect x="572.33" fill="#5a5aa3"/>
<rect x="580.84" fill="#5a59a3"/>
<rect x="589.34" fill="#5a58a2"/>
<rect x="597.85" fill="#5a58a2"/>
<rect x="606.35" fill="#5a57a1"/>
<rect x="614.86" fill="#5a56a1"/>
<rect x="623.37" fill="#5a56a1"/>
<rect x="631.87" fill="#5a55a1"/>
<rect x="640.38" fill="#5a55a0"/>
<rect x="648.88" fill="#5a54a0"/>
<rect x="657.39" fill="#5a54a0"/>
<rect x="665.90" fill="#5a53a0"/>
<rect x="674.40" fill="#5a539f"/>
<rect x="682.91" fill="#5a529f"/>
<rect x="691.41" fill="#5a529f"/>
<rect x="699.92" fill="#5a529f"/>
<rect x="708.43" fill="#5a519f"/>
<rect x="716.93" fill="#5a519f"/>
<rect x="725.44" fill="#5a519f"/>
<rect x="733.94" fill="#5a519e"/>
<rect x="742.45" fill="#5a509e"/>
<rect x="750.96" fill="#5a509e"/>
<rect x="759.46" fill="#5a509e"/>
<rect x="767.97" fill="#5a509e"/>
<rect x="776.47" fill="#5a509e"/>
<rect x="784.98" fill="#5a509e"/>
<rect x="793.49" fill="#5a509e"/>
<rect x="801.99" fill="#5a509e"/>
<rect x="810.50" fill="#5a509e"/>
<rect x="819.00" fill="#5a509e"/>
<rect x="827.51" fill="#5a509e"/>
<rect x="836.02" fill="#5a509e"/>
<rect x="844.52" fill="#5a509e"/>
<rect x="853.03" fill="#5a509e"/>
<rect x="861.53" fill="#5a509e"/>
<rect x="870.04" fill="#5a509e"/>
<rect x="878.55" fill="#5a509e"/>
<rect x="887.05" fill="#5a509e"/>
<rect x="895.56" fill="#5a509e"/>
<rect x="904.06" fill="#5a509e"/>
<rect x="912.57" fill="#5a509e"/>
<rect x="921.08" fill="#5a509e"/>
<rect x="929.58" fill="#5a509e"/>
<rect x="938.09" fill="#5a509e"/>
<rect x="946.59" fill="#5a509e"/>
<rect x="955.10" fill="#5a509e"/>
</g>
<g transform="translate(0,625.890)">
<rect x="334.16" fill="#860643"/>
<rect x="342.67" fill="#d86e48"/>
<rect x="351.17" fill="#f5dc8c"/>
<rect x="359.68" fill="#fafcb7"/>
<rect x="368.19" fill="#e2f19d"/>
<rect x="376.69" fill="#b1d7a5"/>
<rect x="385.20" fill="#9acba5"/>
<rect x="393.70" fill="#82b9a8"/>
<rect x="402.21" fill="#75a7ae"/>
<rect x="410.72" fill="#6898b3"/>
<rect x="419.22" fill="#6d9eb1"/>
<rect x="427.73" fill="#5782b7"/>
<rect x="436.23" fill="#587ab3"/>
<rect x="444.74" fill="#587fb6"/>
<rect x="453.25" fill="#587ab3"/>
<rect x="461.75" fill="#5972af"/>
<rect x="470.26" fill="#596ead"/>
<rect x="478.76" fill="#5a6bac"/>
<rect x="487.27" fill="#5a69aa"/>
<rect x="495.78" fill="#5a66a9"/>
<rect x="504.28" fill="#5a64a8"/>
<rect x="512.79" fill="#5a62a7"/>
<rect x="521.29" fill="#5a61a6"/>
<rect x="529.80" fill="#5a5fa5"/>
<rect x="538.31" fill="#5a5ea5"/>
<rect x="546.81" fill="#5a5da4"/>
<rect x="555.32" fill="#5a5ba4"/>
<rect x="563.82" fill="#5a5aa3"/>
<rect x="572.33" fill="#5a59a3"/>
<rect x="580.84" fill="#5a59a2"/>
<rect x="589.34" fill="#5a58a2"/>
<rect x="597.85" fill="#5a57a2"/>
<rect x="606.35" fill="#5a56a1"/>
<rect x="614.86" fill="#5a56a1"/>
<rect x="623.37" fill="#5a55a1"/>
<rect x="631.87" fill="#5a55a0"/>
<rect x="640.38" fill="#5a54a0"/>
<rect x="648.88" fill="#5a54a0"/>
<rect x="657.39" fill="#5a53a0"/>
<rect x="665.90" fill="#5a53a0"/>
<rect x="674.40" fill="#5a539f"/>
<rect x="682.91" fill="#5a529f"/>
<rect x="691.41" fill="#5a529f"/>
<rect x="699.92" fill="#5a529f"/>
<rect x="708.43" fill="#5a519f"/>
<rect x="716.93" fill="#5a519f"/>
<rect x="725.44" fill="#5a519e"/>
<rect x="733.94" fill="#5a519e"/>
<rect x="742.45" fill="#5a509e"/>
<rect x="750.96" fill="#5a509e"/>
<rect x="759.46" fill="#5a509e"/>
<rect x="767.97" fill="#5a509e"/>
<rect x="776.47" fill="#5a509e"/>
<rect x="784.98" fill="#5a509e"/>
<rect x="793.49" fill="#5a509e"/>
<rect x="801.99" fill="#5a509e"/>
<rect x="810.50" fill="#5a509e"/>
<rect x="819.00" fill="#5a509e"/>
<rect x="827.51" fill="#5a509e"/>
<rect x="836.02" fill="#5a509e"/>
<rect x="844.52" fill="#5a509e"/>
<rect x="853.03" fill="#5a509e"/>
<rect x="861.53" fill="#5a509e"/>
<rect x="870.04" fill="#5a509e"/>
<rect x="878.55" fill="#5a509e"/>
<rect x="887.05" fill="#5a509e"/>
<rect x="895.56" fill="#5a509e"/>
<rect x="904.06" fill="#5a509e"/>
<rect x="912.57" fill="#5a509e"/>
<rect x="921.08" fill="#5a509e"/>
<rect x="929.58" fill="#5a509e"/>
<rect x="938.09" fill="#5a509e"/>
<rect x="946.59" fill="#5a509e"/>
<rect x="955.10" fill="#5a509e"/>
</g>
<g transform="translate(0,647.920)">
<rect x="334.16" fill="#b9414f"/>
<rect x="342.67" fill="#e7a562"/>
<rect x="351.17" fill="#f8e598"/>
<rect x="359.68" fill="#f6fbb2"/>
<rect x="368.19" fill="#c7e3a3"/>
<rect x="376.69" fill="#b1d7a5"/>
<rect x="385.20" fill="#aad3a5"/>
<rect x="393.70" fill="#82b9a8"/>
<rect x="402.21" fill="#75a7ae"/>
<rect x="410.72" fill="#6898b3"/>
<rect x="419.22" fill="#6090b7"/>
<rect x="427.73" fill="#5c8cb8"/>
<rect x="436.23" fill="#5785b9"/>
<rect x="444.74" fill="#587fb6"/>
<rect x="453.25" fill="#5879b2"/>
<rect x="461.75" fill="#5974b0"/>
<rect x="470.26" fill="#5971ae"/>
<rect x="478.76" fill="#596dad"/>
<rect x="487.27" fill="#5a6aab"/>
<rect x="495.78" fill="#5a68aa"/>
<rect x="504.28" fill="#5a66a9"/>
<rect x="512.79" fill="#5a64a8"/>
<rect x="521.29" fill="#5a62a7"/>
<rect x="529.80" fill="#5a60a6"/>
<rect x="538.31" fill="#5a5fa5"/>
<rect x="546.81" fill="#5a5da5"/>
<rect x="555.32" fill="#5a5ca4"/>
<rect x="563.82" fill="#5a5ba4"/>
<rect x="572.33" fill="#5a5aa3"/>
<rect x="580.84" fill="#5a59a3"/>
<rect x="589.34" fill="#5a58a2"/>
<rect x="597.85" fill="#5a58a2"/>
<rect x="606.35" fill="#5a57a1"/>
<rect x="614.86" fill="#5a56a1"/>
<rect x="623.37" fill="#5a56a1"/>
<rect x="631.87" fill="#5a55a1"/>
<rect x="640.38" fill="#5a55a0"/>
<rect x="648.88" fill="#5a54a0"/>
<rect x="657.39" fill="#5a54a0"/>
<rect x="665.90" fill="#5a53a0"/>
<rect x="674.40" fill="#5a53a0"/>
<rect x="682.91" fill="#5a539f"/>
<rect x="691.41" fill="#5a529f"/>
<rect x="699.92" fill="#5a529f"/>
<rect x="708.43" fill="#5a529f"/>
<rect x="716.93" fill="#5a519f"/>
<rect x="725.44" fill="#5a519f"/>
<rect x="733.94" fill="#5a519e"/>
<rect x="742.45" fill="#5a519e"/>
<rect x="750.96" fill="#5a509e"/>
<rect x="759.46" fill="#5a509e"/>
<rect x="767.97" fill="#5a509e"/>
<rect x="776.47" fill="#5a509e"/>
<rect x="784.98" fill="#5a509e"/>
<rect x="793.49" fill="#5a509e"/>
<rect x="801.99" fill="#5a509e"/>
<rect x="810.50" fill="#5a509e"/>
<rect x="819.00" fill="#5a509e"/>
<rect x="827.51" fill="#5a509e"/>
<rect x="836.02" fill="#5a509e"/>
<rect x="844.52" fill="#5a509e"/>
<rect x="853.03" fill="#5a509e"/>
<rect x="861.53" fill="#5a509e"/>
<rect x="870.04" fill="#5a509e"/>
<rect x="878.55" fill="#5a509e"/>
<rect x="887.05" fill="#5a509e"/>
<rect x="895.56" fill="#5a509e"/>
<rect x="904.06" fill="#5a509e"/>
<rect x="912.57" fill="#5a509e"/>
<rect x="921.08" fill="#5a509e"/>
<rect x="929.58" fill="#5a509e"/>
<rect x="938.09" fill="#5a509e"/>
<rect x="946.59" fill="#5a509e"/>
<rect x="955.10" fill="#5a509e"/>
</g>
<g transform="translate(0,669.950)">
<rect x="334.16" fill="#b9414f"/>
<rect x="342.67" fill="#e8a763"/>
<rect x="351.17" fill="#fdf7b4"/>
<rect x="359.68" fill="#eef7a3"/>
<rect x="368.19" fill="#c7e3a3"/>
<rect x="376.69" fill="#b6daa5"/>
<rect x="385.20" fill="#90c5a5"/>
<rect x="393.70" fill="#88c1a5"/>
<rect x="402.21" fill="#75a7ae"/>
<rect x="410.72" fill="#6898b3"/>
<rect x="419.22" fill="#5d8db8"/>
<rect x="427.73" fill="#5787ba"/>
<rect x="436.23" fill="#5781b7"/>
<rect x="444.74" fill="#587fb6"/>
<rect x="453.25" fill="#5977b2"/>
<rect x="461.75" fill="#5973af"/>
<rect x="470.26" fill="#596fae"/>
<rect x="478.76" fill="#5a6cac"/>
<rect x="487.27" fill="#5a69ab"/>
<rect x="495.78" fill="#5a67a9"/>
<rect x="504.28" fill="#5a65a8"/>
<rect x="512.79" fill="#5a63a7"/>
<rect x="521.29" fill="#5a61a6"/>
<rect x="529.80" fill="#5a60a6"/>
<rect x="538.31" fill="#5a5ea5"/>
<rect x="546.81" fill="#5a5da4"/>
<rect x="555.32" fill="#5a5ca4"/>
<rect x="563.82" fill="#5a5ba3"/>
<rect x="572.33" fill="#5a5aa3"/>
<rect x="580.84" fill="#5a59a2"/>
<rect x="589.34" fill="#5a58a2"/>
<rect x="597.85" fill="#5a57a2"/>
<rect x="606.35" fill="#5a57a1"/>
<rect x="614.86" fill="#5a56a1"/>
<rect x="623.37" fill="#5a56a1"/>
<rect x="631.87" fill="#5a55a0"/>
<rect x="640.38" fill="#5a54a0"/>
<rect x="648.88" fill="#5a54a0"/>
<rect x="657.39" fill="#5a54a0"/>
<rect x="665.90" fill="#5a53a0"/>
<rect x="674.40" fill="#5a539f"/>
<rect x="682.91" fill="#5a529f"/>
<rect x="691.41" fill="#5a529f"/>
<rect x="699.92" fill="#5a529f"/>
<rect x="708.43" fill="#5a519f"/>
<rect x="716.93" fill="#5a519f"/>
<rect x="725.44" fill="#5a519f"/>
<rect x="733.94" fill="#5a519e"/>
<rect x="742.45" fill="#5a509e"/>
<rect x="750.96" fill="#5a509e"/>
<rect x="759.46" fill="#5a509e"/>
<rect x="767.97" fill="#5a509e"/>
<rect x="776.47" fill="#5a509e"/>
<rect x="784.98" fill="#5a509e"/>
<rect x="793.49" fill="#5a509e"/>
<rect x="801.99" fill="#5a509e"/>
<rect x="810.50" fill="#5a509e"/>
<rect x="819.00" fill="#5a509e"/>
<rect x="827.51" fill="#5a509e"/>
<rect x="836.02" fill="#5a509e"/>
<rect x="844.52" fill="#5a509e"/>
<rect x="853.03" fill="#5a509e"/>
<rect x="861.53" fill="#5a509e"/>
<rect x="870.04" fill="#5a509e"/>
<rect x="878.55" fill="#5a509e"/>
<rect x="887.05" fill="#5a509e"/>
<rect x="895.56" fill="#5a509e"/>
<rect x="904.06" fill="#5a509e"/>
<rect x="912.57" fill="#5a509e"/>
<rect x="921.08" fill="#5a509e"/>
<rect x="929.58" fill="#5a509e"/>
<rect x="938.09" fill="#5a509e"/>
<rect x="946.59" fill="#5a509e"/>
<rect x="955.10" fill="#5a509e"/>
</g>
<g transform="translate(0,691.980)">
<rect x="334.16" fill="#bc464f"/>
<rect x="342.67" fill="#eebd73"/>
<rect x="351.17" fill="#ffffc1"/>
<rect x="359.68" fill="#dbed9f"/>
<rect x="368.19" fill="#bbdda5"/>
<rect x="376.69" fill="#a0cea5"/>
<rect x="385.20" fill="#93c7a5"/>
<rect x="393.70" fill="#82b9a8"/>
<rect x="402.21" fill="#75a7ae"/>
<rect x="410.72" fill="#6898b3"/>
<rect x="419.22" fill="#5d8db8"/>
<rect x="427.73" fill="#5786b9"/>
<rect x="436.23" fill="#5781b7"/>
<rect x="444.74" fill="#587fb6"/>
<rect x="453.25" fill="#5977b1"/>
<rect x="461.75" fill="#5973af"/>
<rect x="470.26" fill="#596fae"/>
<rect x="478.76" fill="#5a6cac"/>
<rect x="487.27" fill="#5a69ab"/>
<rect x="495.78" fill="#5a67a9"/>
<rect x="504.28" fill="#5a65a8"/>
<rect x="512.79" fill="#5a63a7"/>
<rect x="521.29" fill="#5a61a7"/>
<rect x="529.80" fill="#5a60a6"/>
<rect x="538.31" fill="#5a5ea5"/>
<rect x="546.81" fill="#5a5da4"/>
<rect x="555.32" fill="#5a5ca4"/>
<rect x="563.82" fill="#5a5ba3"/>
<rect x="572.33" fill="#5a5aa3"/>
<rect x="580.84" fill="#5a59a2"/>
<rect x="589.34" fill="#5a58a2"/>
<rect x="597.85" fill="#5a57a2"/>
<rect x="606.35" fill="#5a57a1"/>
<rect x="614.86" fill="#5a56a1"/>
<rect x="623.37" fill="#5a56a1"/>
<rect x="631.87" fill="#5a55a1"/>
<rect x="640.38" fill="#5a55a0"/>
<rect x="648.88" fill="#5a54a0"/>
<rect x="657.39" fill="#5a54a0"/>
<rect x="665.90" fill="#5a53a0"/>
<rect x="674.40" fill="#5a539f"/>
<rect x="682.91" fill="#5a529f"/>
<rect x="691.41" fill="#5a529f"/>
<rect x="699.92" fill="#5a529f"/>
<rect x="708.43" fill="#5a529f"/>
<rect x="716.93" fill="#5a519f"/>
<rect x="725.44" fill="#5a519f"/>
<rect x="733.94" fill="#5a519e"/>
<rect x="742.45" fill="#5a509e"/>
<rect x="750.96" fill="#5a509e"/>
<rect x="759.46" fill="#5a509e"/>
<rect x="767.97" fill="#5a509e"/>
<rect x="776.47" fill="#5a509e"/>
<rect x="784.98" fill="#5a509e"/>
<rect x="793.49" fill="#5a509e"/>
<rect x="801.99" fill="#5a509e"/>
<rect x="810.50" fill="#5a509e"/>
<rect x="819.00" fill="#5a509e"/>
<rect x="827.51" fill="#5a509e"/>
<rect x="836.02" fill="#5a509e"/>
<rect x="844.52" fill="#5a509e"/>
<rect x="853.03" fill="#5a509e"/>
<rect x="861.53" fill="#5a509e"/>
<rect x="870.04" fill="#5a509e"/>
<rect x="878.55" fill="#5a509e"/>
<rect x="887.05" fill="#5a509e"/>
<rect x="895.56" fill="#5a509e"/>
<rect x="904.06" fill="#5a509e"/>
<rect x="912.57" fill="#5a509e"/>
<rect x="921.08" fill="#5a509e"/>
<rect x="929.58" fill="#5a509e"/>
<rect x="938.09" fill="#5a509e"/>
<rect x="946.59" fill="#5a509e"/>
<rect x="955.10" fill="#5a509e"/>
</g>
<g transform="translate(0,714.010)">
<rect x="334.16" fill="#dd7f4f"/>
<rect x="342.67" fill="#eebd73"/>
<rect x="351.17" fill="#fffdbe"/>
<rect x="359.68" fill="#d8ec9f"/>
<rect x="368.19" fill="#b1d7a5"/>
<rect x="376.69" fill="#a0cea5"/>
<rect x="385.20" fill="#98c9a5"/>
<rect x="393.70" fill="#7eb3aa"/>
<rect x="402.21" fill="#75a7ae"/>
<rect x="410.72" fill="#6898b3"/>
<rect x="419.22" fill="#5d8db8"/>
<rect x="427.73" fill="#5787ba"/>
<rect x="436.23" fill="#5972af"/>
<rect x="444.74" fill="#587fb6"/>
<rect x="453.25" fill="#5974b0"/>
<rect x="461.75" fill="#5970ae"/>
<rect x="470.26" fill="#5a6dac"/>
<rect x="478.76" fill="#5a6aab"/>
<rect x="487.27" fill="#5a68aa"/>
<rect x="495.78" fill="#5a65a9"/>
<rect x="504.28" fill="#5a63a8"/>
<rect x="512.79" fill="#5a62a7"/>
<rect x="521.29" fill="#5a60a6"/>
<rect x="529.80" fill="#5a5fa5"/>
<rect x="538.31" fill="#5a5da5"/>
<rect x="546.81" fill="#5a5ca4"/>
<rect x="555.32" fill="#5a5ba3"/>
<rect x="563.82" fill="#5a5aa3"/>
<rect x="572.33" fill="#5a59a3"/>
<rect x="580.84" fill="#5a58a2"/>
<rect x="589.34" fill="#5a58a2"/>
<rect x="597.85" fill="#5a57a1"/>
<rect x="606.35" fill="#5a56a1"/>
<rect x="614.86" fill="#5a56a1"/>
<rect x="623.37" fill="#5a55a1"/>
<rect x="631.87" fill="#5a55a0"/>
<rect x="640.38" fill="#5a54a0"/>
<rect x="648.88" fill="#5a54a0"/>
<rect x="657.39" fill="#5a53a0"/>
<rect x="665.90" fill="#5a53a0"/>
<rect x="674.40" fill="#5a539f"/>
<rect x="682.91" fill="#5a529f"/>
<rect x="691.41" fill="#5a529f"/>
<rect x="699.92" fill="#5a529f"/>
<rect x="708.43" fill="#5a519f"/>
<rect x="716.93" fill="#5a519f"/>
<rect x="725.44" fill="#5a519e"/>
<rect x="733.94" fill="#5a519e"/>
<rect x="742.45" fill="#5a509e"/>
<rect x="750.96" fill="#5a509e"/>
<rect x="759.46" fill="#5a509e"/>
<rect x="767.97" fill="#5a509e"/>
<rect x="776.47" fill="#5a509e"/>
<rect x="784.98" fill="#5a509e"/>
<rect x="793.49" fill="#5a509e"/>
<rect x="801.99" fill="#5a509e"/>
<rect x="810.50" fill="#5a509e"/>
<rect x="819.00" fill="#5a509e"/>
<rect x="827.51" fill="#5a509e"/>
<rect x="836.02" fill="#5a509e"/>
<rect x="844.52" fill="#5a509e"/>
<rect x="853.03" fill="#5a509e"/>
<rect x="861.53" fill="#5a509e"/>
<rect x="870.04" fill="#5a509e"/>
<rect x="878.55" fill="#5a509e"/>
<rect x="887.05" fill="#5a509e"/>
<rect x="895.56" fill="#5a509e"/>
<rect x="904.06" fill="#5a509e"/>
<rect x="912.57" fill="#5a509e"/>
<rect x="921.08" fill="#5a509e"/>
<rect x="929.58" fill="#5a509e"/>
<rect x="938.09" fill="#5a509e"/>
<rect x="946.59" fill="#5a509e"/>
<rect x="955.10" fill="#5a509e"/>
</g>
<g transform="translate(0,736.040)">
<rect x="325.66" fill="#9e2949"/>
<rect x="334.16" fill="#d16449"/>
<rect x="342.67" fill="#f2cf81"/>
<rect x="351.17" fill="#fafcb7"/>
<rect x="359.68" fill="#dcee9f"/>
<rect x="368.19" fill="#c5e2a3"/>
<rect x="376.69" fill="#93c7a5"/>
<rect x="385.20" fill="#8bc3a5"/>
<rect x="393.70" fill="#7bb0ab"/>
<rect x="402.21" fill="#6d9eb1"/>
<rect x="410.72" fill="#6898b3"/>
<rect x="419.22" fill="#5d8db8"/>
<rect x="427.73" fill="#5785b9"/>
<rect x="436.23" fill="#5781b7"/>
<rect x="444.74" fill="#5976b1"/>
<rect x="453.25" fill="#5975b0"/>
<rect x="461.75" fill="#5971ae"/>
<rect x="470.26" fill="#596ead"/>
<rect x="478.76" fill="#5a6bab"/>
<rect x="487.27" fill="#5a68aa"/>
<rect x="495.78" fill="#5a66a9"/>
<rect x="504.28" fill="#5a64a8"/>
<rect x="512.79" fill="#5a62a7"/>
<rect x="521.29" fill="#5a61a6"/>
<rect x="529.80" fill="#5a5fa5"/>
<rect x="538.31" fill="#5a5ea5"/>
<rect x="546.81" fill="#5a5da4"/>
<rect x="555.32" fill="#5a5ca4"/>
<rect x="563.82" fill="#5a5ba3"/>
<rect x="572.33" fill="#5a5aa3"/>
<rect x="580.84" fill="#5a59a2"/>
<rect x="589.34" fill="#5a58a2"/>
<rect x="597.85" fill="#5a57a2"/>
<rect x="606.35" fill="#5a57a1"/>
<rect x="614.86" fill="#5a56a1"/>
<rect x="623.37" fill="#5a55a1"/>
<rect x="631.87" fill="#5a55a0"/>
<rect x="640.38" fill="#5a54a0"/>
<rect x="648.88" fill="#5a54a0"/>
<rect x="657.39" fill="#5a54a0"/>
<rect x="665.90" fill="#5a53a0"/>
<rect x="674.40" fill="#5a539f"/>
<rect x="682.91" fill="#5a529f"/>
<rect x="691.41" fill="#5a529f"/>
<rect x="699.92" fill="#5a529f"/>
<rect x="708.43" fill="#5a519f"/>
<rect x="716.93" fill="#5a519f"/>
<rect x="725.44" fill="#5a519f"/>
<rect x="733.94" fill="#5a519e"/>
<rect x="742.45" fill="#5a509e"/>
<rect x="750.96" fill="#5a509e"/>
<rect x="759.46" fill="#5a509e"/>
<rect x="767.97" fill="#5a509e"/>
<rect x="776.47" fill="#5a509e"/>
<rect x="784.98" fill="#5a509e"/>
<rect x="793.49" fill="#5a509e"/>
<rect x="801.99" fill="#5a509e"/>
<rect x="810.50" fill="#5a509e"/>
<rect x="819.00" fill="#5a509e"/>
<rect x="827.51" fill="#5a509e"/>
<rect x="836.02" fill="#5a509e"/>
<rect x="844.52" fill="#5a509e"/>
<rect x="853.03" fill="#5a509e"/>
<rect x="861.53" fill="#5a509e"/>
<rect x="870.04" fill="#5a509e"/>
<rect x="878.55" fill="#5a509e"/>
<rect x="887.05" fill="#5a509e"/>
<rect x="895.56" fill="#5a509e"/>
<rect x="904.06" fill="#5a509e"/>
<rect x="912.57" fill="#5a509e"/>
<rect x="921.08" fill="#5a509e"/>
<rect x="929.58" fill="#5a509e"/>
<rect x="938.09" fill="#5a509e"/>
<rect x="946.59" fill="#5a509e"/>
<rect x="955.10" fill="#5a509e"/>
</g>
<g transform="translate(0,758.070)">
<rect x="325.66" fill="#b8404f"/>
<rect x="334.16" fill="#d76d47"/>
<rect x="342.67" fill="#f8e699"/>
<rect x="351.17" fill="#edf6a1"/>
<rect x="359.68" fill="#c5e2a3"/>
<rect x="368.19" fill="#b1d7a5"/>
<rect x="376.69" fill="#9acba5"/>
<rect x="385.20" fill="#8bc3a5"/>
<rect x="393.70" fill="#7bb0ab"/>
<rect x="402.21" fill="#6d9eb1"/>
<rect x="410.72" fill="#5d8db8"/>
<rect x="419.22" fill="#5787ba"/>
<rect x="427.73" fill="#5785b9"/>
<rect x="436.23" fill="#5781b7"/>
<rect x="444.74" fill="#5978b2"/>
<rect x="453.25" fill="#5975b0"/>
<rect x="461.75" fill="#5971ae"/>
<rect x="470.26" fill="#596ead"/>
<rect x="478.76" fill="#5a6bab"/>
<rect x="487.27" fill="#5a68aa"/>
<rect x="495.78" fill="#5a66a9"/>
<rect x="504.28" fill="#5a64a8"/>
<rect x="512.79" fill="#5a62a7"/>
<rect x="521.29" fill="#5a61a6"/>
<rect x="529.80" fill="#5a5fa5"/>
<rect x="538.31" fill="#5a5ea5"/>
<rect x="546.81" fill="#5a5da4"/>
<rect x="555.32" fill="#5a5ca4"/>
<rect x="563.82" fill="#5a5ba3"/>
<rect x="572.33" fill="#5a5aa3"/>
<rect x="580.84" fill="#5a59a2"/>
<rect x="589.34" fill="#5a58a2"/>
<rect x="597.85" fill="#5a57a2"/>
<rect x="606.35" fill="#5a57a1"/>
<rect x="614.86" fill="#5a56a1"/>
<rect x="623.37" fill="#5a55a1"/>
<rect x="631.87" fill="#5a55a0"/>
<rect x="640.38" fill="#5a54a0"/>
<rect x="648.88" fill="#5a54a0"/>
<rect x="657.39" fill="#5a54a0"/>
<rect x="665.90" fill="#5a53a0"/>
<rect x="674.40" fill="#5a539f"/>
<rect x="682.91" fill="#5a529f"/>
<rect x="691.41" fill="#5a529f"/>
<rect x="699.92" fill="#5a529f"/>
<rect x="708.43" fill="#5a529f"/>
<rect x="716.93" fill="#5a519f"/>
<rect x="725.44" fill="#5a519f"/>
<rect x="733.94" fill="#5a519e"/>
<rect x="742.45" fill="#5a509e"/>
<rect x="750.96" fill="#5a509e"/>
<rect x="759.46" fill="#5a509e"/>
<rect x="767.97" fill="#5a509e"/>
<rect x="776.47" fill="#5a509e"/>
<rect x="784.98" fill="#5a509e"/>
<rect x="793.49" fill="#5a509e"/>
<rect x="801.99" fill="#5a509e"/>
<rect x="810.50" fill="#5a509e"/>
<rect x="819.00" fill="#5a509e"/>
<rect x="827.51" fill="#5a509e"/>
<rect x="836.02" fill="#5a509e"/>
<rect x="844.52" fill="#5a509e"/>
<rect x="853.03" fill="#5a509e"/>
<rect x="861.53" fill="#5a509e"/>
<rect x="870.04" fill="#5a509e"/>
<rect x="878.55" fill="#5a509e"/>
<rect x="887.05" fill="#5a509e"/>
<rect x="895.56" fill="#5a509e"/>
<rect x="904.06" fill="#5a509e"/>
<rect x="912.57" fill="#5a509e"/>
<rect x="921.08" fill="#5a509e"/>
<rect x="929.58" fill="#5a509e"/>
<rect x="938.09" fill="#5a509e"/>
<rect x="946.59" fill="#5a509e"/>
<rect x="955.10" fill="#5a509e"/>
</g>
<g transform="translate(0,780.100)">
<rect x="325.66" fill="#c8584c"/>
<rect x="334.16" fill="#e6a15f"/>
<rect x="342.67" fill="#fefebf"/>
<rect x="351.17" fill="#dcee9f"/>
<rect x="359.68" fill="#c5e2a3"/>
<rect x="368.19" fill="#aad3a5"/>
<rect x="376.69" fill="#9acba5"/>
<rect x="385.20" fill="#8ac2a5"/>
<rect x="393.70" fill="#7bb0ab"/>
<rect x="402.21" fill="#6898b3"/>
<rect x="410.72" fill="#5d8db8"/>
<rect x="419.22" fill="#6090b7"/>
<rect x="427.73" fill="#5785b9"/>
<rect x="436.23" fill="#5781b7"/>
<rect x="444.74" fill="#587ab3"/>
<rect x="453.25" fill="#5976b1"/>
<rect x="461.75" fill="#5972af"/>
<rect x="470.26" fill="#596fae"/>
<rect x="478.76" fill="#5a6cac"/>
<rect x="487.27" fill="#5a6aab"/>
<rect x="495.78" fill="#5a67aa"/>
<rect x="504.28" fill="#5a65a8"/>
<rect x="512.79" fill="#5a63a8"/>
<rect x="521.29" fill="#5a62a7"/>
<rect x="529.80" fill="#5a60a6"/>
<rect x="538.31" fill="#5a5fa5"/>
<rect x="546.81" fill="#5a5ea5"/>
<rect x="555.32" fill="#5a5ca4"/>
<rect x="563.82" fill="#5a5ba4"/>
<rect x="572.33" fill="#5a5aa3"/>
<rect x="580.84" fill="#5a5aa3"/>
<rect x="589.34" fill="#5a59a2"/>
<rect x="597.85" fill="#5a58a2"/>
<rect x="606.35" fill="#5a57a2"/>
<rect x="614.86" fill="#5a57a1"/>
<rect x="623.37" fill="#5a56a1"/>
<rect x="631.87" fill="#5a55a1"/>
<rect x="640.38" fill="#5a55a0"/>
<rect x="648.88" fill="#5a55a0"/>
<rect x="657.39" fill="#5a54a0"/>
<rect x="665.90" fill="#5a54a0"/>
<rect x="674.40" fill="#5a53a0"/>
<rect x="682.91" fill="#5a539f"/>
<rect x="691.41" fill="#5a539f"/>
<rect x="699.92" fill="#5a529f"/>
<rect x="708.43" fill="#5a529f"/>
<rect x="716.93" fill="#5a529f"/>
<rect x="725.44" fill="#5a519f"/>
<rect x="733.94" fill="#5a519f"/>
<rect x="742.45" fill="#5a519f"/>
<rect x="750.96" fill="#5a519e"/>
<rect x="759.46" fill="#5a509e"/>
<rect x="767.97" fill="#5a509e"/>
<rect x="776.47" fill="#5a509e"/>
<rect x="784.98" fill="#5a509e"/>
<rect x="793.49" fill="#5a509e"/>
<rect x="801.99" fill="#5a509e"/>
<rect x="810.50" fill="#5a509e"/>
<rect x="819.00" fill="#5a509e"/>
<rect x="827.51" fill="#5a509e"/>
<rect x="836.02" fill="#5a509e"/>
<rect x="844.52" fill="#5a509e"/>
<rect x="853.03" fill="#5a509e"/>
<rect x="861.53" fill="#5a509e"/>
<rect x="870.04" fill="#5a509e"/>
<rect x="878.55" fill="#5a509e"/>
<rect x="887.05" fill="#5a509e"/>
<rect x="895.56" fill="#5a509e"/>
<rect x="904.06" fill="#5a509e"/>
<rect x="912.57" fill="#5a509e"/>
<rect x="921.08" fill="#5a509e"/>
<rect x="929.58" fill="#5a509e"/>
<rect x="938.09" fill="#5a509e"/>
<rect x="946.59" fill="#5a509e"/>
<rect x="955.10" fill="#5a509e"/>
</g>
<g transform="translate(0,802.130)">
<rect x="325.66" fill="#e08a55"/>
<rect x="334.16" fill="#f6e091"/>
<rect x="342.67" fill="#f3d385"/>
<rect x="351.17" fill="#dcee9f"/>
<rect x="359.68" fill="#bbdda5"/>
<rect x="368.19" fill="#9acba5"/>
<rect x="376.69" fill="#98c9a5"/>
<rect x="385.20" fill="#7bb0ab"/>
<rect x="393.70" fill="#72a4af"/>
<rect x="402.21" fill="#5785b9"/>
<rect x="410.72" fill="#6393b6"/>
<rect x="419.22" fill="#5787ba"/>
<rect x="427.73" fill="#5785b9"/>
<rect x="436.23" fill="#5781b7"/>
<rect x="444.74" fill="#587ab3"/>
<rect x="453.25" fill="#5976b1"/>
<rect x="461.75" fill="#5972af"/>
<rect x="470.26" fill="#596fad"/>
<rect x="478.76" fill="#5a6cac"/>
<rect x="487.27" fill="#5a69ab"/>
<rect x="495.78" fill="#5a67a9"/>
<rect x="504.28" fill="#5a65a8"/>
<rect x="512.79" fill="#5a63a8"/>
<rect x="521.29" fill="#5a62a7"/>
<rect x="529.80" fill="#5a60a6"/>
<rect x="538.31" fill="#5a5fa5"/>
<rect x="546.81" fill="#5a5ea5"/>
<rect x="555.32" fill="#5a5da4"/>
<rect x="563.82" fill="#5a5ba4"/>
<rect x="572.33" fill="#5a5ba3"/>
<rect x="580.84" fill="#5a5aa3"/>
<rect x="589.34" fill="#5a59a2"/>
<rect x="597.85" fill="#5a58a2"/>
<rect x="606.35" fill="#5a57a2"/>
<rect x="614.86" fill="#5a57a1"/>
<rect x="623.37" fill="#5a56a1"/>
<rect x="631.87" fill="#5a56a1"/>
<rect x="640.38" fill="#5a55a1"/>
<rect x="648.88" fill="#5a55a0"/>
<rect x="657.39" fill="#5a54a0"/>
<rect x="665.90" fill="#5a54a0"/>
<rect x="674.40" fill="#5a53a0"/>
<rect x="682.91" fill="#5a53a0"/>
<rect x="691.41" fill="#5a539f"/>
<rect x="699.92" fill="#5a529f"/>
<rect x="708.43" fill="#5a529f"/>
<rect x="716.93" fill="#5a529f"/>
<rect x="725.44" fill="#5a519f"/>
<rect x="733.94" fill="#5a519f"/>
<rect x="742.45" fill="#5a519f"/>
<rect x="750.96" fill="#5a519e"/>
<rect x="759.46" fill="#5a519e"/>
<rect x="767.97" fill="#5a509e"/>
<rect x="776.47" fill="#5a509e"/>
<rect x="784.98" fill="#5a509e"/>
<rect x="793.49" fill="#5a509e"/>
<rect x="801.99" fill="#5a509e"/>
<rect x="810.50" fill="#5a509e"/>
<rect x="819.00" fill="#5a509e"/>
<rect x="827.51" fill="#5a509e"/>
<rect x="836.02" fill="#5a509e"/>
<rect x="844.52" fill="#5a509e"/>
<rect x="853.03" fill="#5a509e"/>
<rect x="861.53" fill="#5a509e"/>
<rect x="870.04" fill="#5a509e"/>
<rect x="878.55" fill="#5a509e"/>
<rect x="887.05" fill="#5a509e"/>
<rect x="895.56" fill="#5a509e"/>
<rect x="904.06" fill="#5a509e"/>
<rect x="912.57" fill="#5a509e"/>
<rect x="921.08" fill="#5a509e"/>
<rect x="929.58" fill="#5a509e"/>
<rect x="938.09" fill="#5a509e"/>
<rect x="946.59" fill="#5a509e"/>
<rect x="955.10" fill="#5a509e"/>
</g>
<g transform="translate(0,824.160)">
<rect x="317.15" fill="#c5524d"/>
<rect x="325.66" fill="#e8a662"/>
<rect x="334.16" fill="#faeea6"/>
<rect x="342.67" fill="#eff7a5"/>
<rect x="351.17" fill="#d0e7a1"/>
<rect x="359.68" fill="#b1d7a5"/>
<rect x="368.19" fill="#9acba5"/>
<rect x="376.69" fill="#8bc3a5"/>
<rect x="385.20" fill="#75a7ae"/>
<rect x="393.70" fill="#72a4af"/>
<rect x="402.21" fill="#6393b6"/>
<rect x="410.72" fill="#5d8db8"/>
<rect x="419.22" fill="#6090b7"/>
<rect x="427.73" fill="#5786b9"/>
<rect x="436.23" fill="#587ab3"/>
<rect x="444.74" fill="#587ab3"/>
<rect x="453.25" fill="#5976b1"/>
<rect x="461.75" fill="#5972af"/>
<rect x="470.26" fill="#596fad"/>
<rect x="478.76" fill="#5a6cac"/>
<rect x="487.27" fill="#5a6aab"/>
<rect x="495.78" fill="#5a67aa"/>
<rect x="504.28" fill="#5a65a9"/>
<rect x="512.79" fill="#5a64a8"/>
<rect x="521.29" fill="#5a62a7"/>
<rect x="529.80" fill="#5a60a6"/>
<rect x="538.31" fill="#5a5fa5"/>
<rect x="546.81" fill="#5a5ea5"/>
<rect x="555.32" fill="#5a5da4"/>
<rect x="563.82" fill="#5a5ca4"/>
<rect x="572.33" fill="#5a5ba3"/>
<rect x="580.84" fill="#5a5aa3"/>
<rect x="589.34" fill="#5a59a2"/>
<rect x="597.85" fill="#5a58a2"/>
<rect x="606.35" fill="#5a58a2"/>
<rect x="614.86" fill="#5a57a1"/>
<rect x="623.37" fill="#5a56a1"/>
<rect x="631.87" fill="#5a56a1"/>
<rect x="640.38" fill="#5a55a1"/>
<rect x="648.88" fill="#5a55a0"/>
<rect x="657.39" fill="#5a54a0"/>
<rect x="665.90" fill="#5a54a0"/>
<rect x="674.40" fill="#5a54a0"/>
<rect x="682.91" fill="#5a53a0"/>
<rect x="691.41" fill="#5a539f"/>
<rect x="699.92" fill="#5a539f"/>
<rect x="708.43" fill="#5a529f"/>
<rect x="716.93" fill="#5a529f"/>
<rect x="725.44" fill="#5a529f"/>
<rect x="733.94" fill="#5a519f"/>
<rect x="742.45" fill="#5a519f"/>
<rect x="750.96" fill="#5a519f"/>
<rect x="759.46" fill="#5a519e"/>
<rect x="767.97" fill="#5a509e"/>
<rect x="776.47" fill="#5a509e"/>
<rect x="784.98" fill="#5a509e"/>
<rect x="793.49" fill="#5a509e"/>
<rect x="801.99" fill="#5a509e"/>
<rect x="810.50" fill="#5a509e"/>
<rect x="819.00" fill="#5a509e"/>
<rect x="827.51" fill="#5a509e"/>
<rect x="836.02" fill="#5a509e"/>
<rect x="844.52" fill="#5a509e"/>
<rect x="853.03" fill="#5a509e"/>
<rect x="861.53" fill="#5a509e"/>
<rect x="870.04" fill="#5a509e"/>
<rect x="878.55" fill="#5a509e"/>
<rect x="887.05" fill="#5a509e"/>
<rect x="895.56" fill="#5a509e"/>
<rect x="904.06" fill="#5a509e"/>
<rect x="912.57" fill="#5a509e"/>
<rect x="921.08" fill="#5a509e"/>
<rect x="929.58" fill="#5a509e"/>
<rect x="938.09" fill="#5a509e"/>
<rect x="946.59" fill="#5a509e"/>
<rect x="955.10" fill="#5a509e"/>
</g>
<g transform="translate(0,846.190)">
<rect x="317.15" fill="#dd8050"/>
<rect x="325.66" fill="#f2cf81"/>
<rect x="334.16" fill="#f9eaa0"/>
<rect x="342.67" fill="#e7f39c"/>
<rect x="351.17" fill="#c8e3a3"/>
<rect x="359.68" fill="#b1d7a5"/>
<rect x="368.19" fill="#93c7a5"/>
<rect x="376.69" fill="#82b9a8"/>
<rect x="385.20" fill="#75a7ae"/>
<rect x="393.70" fill="#6898b3"/>
<rect x="402.21" fill="#6898b3"/>
<rect x="410.72" fill="#5d8db8"/>
<rect x="419.22" fill="#5785b9"/>
<rect x="427.73" fill="#5786b9"/>
<rect x="436.23" fill="#587fb6"/>
<rect x="444.74" fill="#587ab3"/>
<rect x="453.25" fill="#5975b1"/>
<rect x="461.75" fill="#5972af"/>
<rect x="470.26" fill="#596fad"/>
<rect x="478.76" fill="#5a6cac"/>
<rect x="487.27" fill="#5a69ab"/>
<rect x="495.78" fill="#5a67a9"/>
<rect x="504.28" fill="#5a65a9"/>
<rect x="512.79" fill="#5a63a8"/>
<rect x="521.29" fill="#5a62a7"/>
<rect x="529.80" fill="#5a60a6"/>
<rect x="538.31" fill="#5a5fa5"/>
<rect x="546.81" fill="#5a5ea5"/>
<rect x="555.32" fill="#5a5da4"/>
<rect x="563.82" fill="#5a5ca4"/>
<rect x="572.33" fill="#5a5ba3"/>
<rect x="580.84" fill="#5a5aa3"/>
<rect x="589.34" fill="#5a59a3"/>
<rect x="597.85" fill="#5a58a2"/>
<rect x="606.35" fill="#5a58a2"/>
<rect x="614.86" fill="#5a57a2"/>
<rect x="623.37" fill="#5a56a1"/>
<rect x="631.87" fill="#5a56a1"/>
<rect x="640.38" fill="#5a55a1"/>
<rect x="648.88" fill="#5a55a0"/>
<rect x="657.39" fill="#5a54a0"/>
<rect x="665.90" fill="#5a54a0"/>
<rect x="674.40" fill="#5a54a0"/>
<rect x="682.91" fill="#5a53a0"/>
<rect x="691.41" fill="#5a53a0"/>
<rect x="699.92" fill="#5a539f"/>
<rect x="708.43" fill="#5a529f"/>
<rect x="716.93" fill="#5a529f"/>
<rect x="725.44" fill="#5a529f"/>
<rect x="733.94" fill="#5a519f"/>
<rect x="742.45" fill="#5a519f"/>
<rect x="750.96" fill="#5a519f"/>
<rect x="759.46" fill="#5a519e"/>
<rect x="767.97" fill="#5a509e"/>
<rect x="776.47" fill="#5a509e"/>
<rect x="784.98" fill="#5a509e"/>
<rect x="793.49" fill="#5a509e"/>
<rect x="801.99" fill="#5a509e"/>
<rect x="810.50" fill="#5a509e"/>
<rect x="819.00" fill="#5a509e"/>
<rect x="827.51" fill="#5a509e"/>
<rect x="836.02" fill="#5a509e"/>
<rect x="844.52" fill="#5a509e"/>
<rect x="853.03" fill="#5a509e"/>
<rect x="861.53" fill="#5a509e"/>
<rect x="870.04" fill="#5a509e"/>
<rect x="878.55" fill="#5a509e"/>
<rect x="887.05" fill="#5a509e"/>
<rect x="895.56" fill="#5a509e"/>
<rect x="904.06" fill="#5a509e"/>
<rect x="912.57" fill="#5a509e"/>
<rect x="921.08" fill="#5a509e"/>
<rect x="929.58" fill="#5a509e"/>
<rect x="938.09" fill="#5a509e"/>
<rect x="946.59" fill="#5a509e"/>
<rect x="955.10" fill="#5a509e"/>
</g>
</g>
<path d="M121.5 9.1V868.2M138.5 9.1V868.2M155.5 9.1V868.2M172.5 9.1V868.2M189.5 9.1V868.2M206.5 9.1V868.2M223.5 9.1V868.2M240.5 9.1V868.2M257.5 9.1V868.2M274.5 9.1V868.2M291.5 9.1V868.2M308.5 9.1V868.2M325.5 9.1V868.2M342.5 9.1V868.2M359.5 9.1V868.2M376.5 9.1V868.2M393.5 9.1V868.2M410.5 9.1V868.2M427.5 9.1V868.2M444.5 9.1V868.2M461.5 9.1V868.2M470.5 9.1V868.2M487.5 9.1V868.2M504.5 9.1V868.2M521.5 9.1V868.2M538.5 9.1V868.2M555.5 9.1V868.2M572.5 9.1V868.2M589.5 9.1V868.2M606.5 9.1V868.2M623.5 9.1V868.2M640.5 9.1V868.2M657.5 9.1V868.2M674.5 9.1V868.2M691.5 9.1V868.2M708.5 9.1V868.2M725.5 9.1V868.2M742.5 9.1V868.2M759.5 9.1V868.2M776.5 9.1V868.2M793.5 9.1V868.2M810.5 9.1V868.2M827.5 9.1V868.2M844.5 9.1V868.2M861.5 9.1V868.2M878.5 9.1V868.2M895.5 9.1V868.2M912.5 9.1V868.2M929.5 9.1V868.2M946.5 9.1V868.2M104.5 31.5H963.6M104.5 53.5H963.6M104.5 75.5H963.6M104.5 97.5H963.6M104.5 119.5H963.6M104.5 141.5H963.6M104.5 163.5H963.6M104.5 185.5H963.6M104.5 207.5H963.6M104.5 229.5H963.6M104.5 251.5H963.6M104.5 273.5H963.6M104.5 295.5H963.6M104.5 317.5H963.6M104.5 339.5H963.6M104.5 361.5H963.6M104.5 383.5H963.6M104.5 405.5H963.6M104.5 427.5H963.6M104.5 449.5H963.6M104.5 471.5H963.6M104.5 493.5H963.6M104.5 515.5H963.6M104.5 537.5H963.6M104.5 559.5H963.6" stroke="#fff" stroke-opacity="0.15" stroke-width="1" fill="none" shape-rendering="crispEdges"/>
<rect x="97" y="0" width="211.5" height="358.2" fill="#fff"/>
<defs><linearGradient id="cb" gradientUnits="userSpaceOnUse" x1="0" y1="336.70" x2="0" y2="71.78">
<stop offset="0.00" stop-color="#5a509e"/>
<stop offset="0.02" stop-color="#5a5ba4"/>
<stop offset="0.04" stop-color="#5a66a9"/>
<stop offset="0.06" stop-color="#5971af"/>
<stop offset="0.08" stop-color="#587cb4"/>
<stop offset="0.10" stop-color="#5787ba"/>
<stop offset="0.12" stop-color="#6292b6"/>
<stop offset="0.14" stop-color="#6d9db2"/>
<stop offset="0.16" stop-color="#76a9ae"/>
<stop offset="0.18" stop-color="#7fb5a9"/>
<stop offset="0.20" stop-color="#87c1a5"/>
<stop offset="0.22" stop-color="#92c6a5"/>
<stop offset="0.24" stop-color="#9ccca5"/>
<stop offset="0.26" stop-color="#a6d1a5"/>
<stop offset="0.28" stop-color="#b0d7a5"/>
<stop offset="0.30" stop-color="#badca5"/>
<stop offset="0.32" stop-color="#c3e1a4"/>
<stop offset="0.34" stop-color="#cde6a2"/>
<stop offset="0.36" stop-color="#d7eba0"/>
<stop offset="0.38" stop-color="#e0f09e"/>
<stop offset="0.40" stop-color="#eaf59c"/>
<stop offset="0.42" stop-color="#eef7a3"/>
<stop offset="0.44" stop-color="#f2f9ab"/>
<stop offset="0.46" stop-color="#f7fbb2"/>
<stop offset="0.48" stop-color="#fbfdb9"/>
<stop offset="0.50" stop-color="#ffffc1"/>
<stop offset="0.52" stop-color="#fdf9b7"/>
<stop offset="0.54" stop-color="#fbf2ac"/>
<stop offset="0.56" stop-color="#faeca2"/>
<stop offset="0.58" stop-color="#f8e598"/>
<stop offset="0.60" stop-color="#f6df8f"/>
<stop offset="0.62" stop-color="#f3d586"/>
<stop offset="0.64" stop-color="#f1cb7e"/>
<stop offset="0.66" stop-color="#efc176"/>
<stop offset="0.68" stop-color="#ecb76e"/>
<stop offset="0.70" stop-color="#e9ac66"/>
<stop offset="0.72" stop-color="#e6a05f"/>
<stop offset="0.74" stop-color="#e39459"/>
<stop offset="0.76" stop-color="#df8753"/>
<stop offset="0.78" stop-color="#db7a4d"/>
<stop offset="0.80" stop-color="#d76d47"/>
<stop offset="0.82" stop-color="#d16449"/>
<stop offset="0.84" stop-color="#cb5c4b"/>
<stop offset="0.86" stop-color="#c5534c"/>
<stop offset="0.88" stop-color="#be4a4e"/>
<stop offset="0.90" stop-color="#b8404f"/>
<stop offset="0.92" stop-color="#ae384d"/>
<stop offset="0.94" stop-color="#a42f4a"/>
<stop offset="0.96" stop-color="#9a2548"/>
<stop offset="0.98" stop-color="#901a45"/>
<stop offset="1.00" stop-color="#860643"/>
</linearGradient></defs>
<rect x="124.1" y="71.1" width="27.9" height="266.8" fill="url(#cb)"/>
<path d="M124.1 336.7h5.7M146.3 336.7h5.7" stroke="#fff" stroke-width="1.8" fill="none"/>
<text x="166.5" y="344.7" font-size="22.5" fill="#000" stroke="#000" stroke-width="0.3">10</text>
<path d="M124.1 312.6h5.7M146.3 312.6h5.7" stroke="#fff" stroke-width="1.8" fill="none"/>
<text x="166.5" y="320.6" font-size="22.5" fill="#000" stroke="#000" stroke-width="0.3">100</text>
<path d="M124.1 272.5h5.7M146.3 272.5h5.7" stroke="#fff" stroke-width="1.8" fill="none"/>
<text x="166.5" y="280.5" font-size="22.5" fill="#000" stroke="#000" stroke-width="0.3">250</text>
<path d="M124.1 205.6h5.7M146.3 205.6h5.7" stroke="#fff" stroke-width="1.8" fill="none"/>
<text x="166.5" y="213.6" font-size="22.5" fill="#000" stroke="#000" stroke-width="0.3">500</text>
<path d="M124.1 138.7h5.7M146.3 138.7h5.7" stroke="#fff" stroke-width="1.8" fill="none"/>
<text x="166.5" y="146.7" font-size="22.5" fill="#000" stroke="#000" stroke-width="0.3">750</text>
<text x="124.8" y="53.7" font-size="30" font-style="italic" fill="#000" stroke="#000" stroke-width="0.3">Sample size</text>
<path d="M96.4 0V876.7H972.2" stroke="#4d4d4d" stroke-width="1.4" fill="none"/>
<path d="M108.75 876.7v10.2" stroke="#333" stroke-width="1.2"/>
<text x="108.75" y="911.8" font-size="23" fill="#444" stroke="#444" stroke-width="0.25" text-anchor="middle">0.00</text>
<path d="M321.40 876.7v10.2" stroke="#333" stroke-width="1.2"/>
<text x="321.40" y="911.8" font-size="23" fill="#444" stroke="#444" stroke-width="0.25" text-anchor="middle">0.25</text>
<path d="M534.05 876.7v10.2" stroke="#333" stroke-width="1.2"/>
<text x="534.05" y="911.8" font-size="23" fill="#444" stroke="#444" stroke-width="0.25" text-anchor="middle">0.50</text>
<path d="M746.70 876.7v10.2" stroke="#333" stroke-width="1.2"/>
<text x="746.70" y="911.8" font-size="23" fill="#444" stroke="#444" stroke-width="0.25" text-anchor="middle">0.75</text>
<path d="M959.35 876.7v10.2" stroke="#333" stroke-width="1.2"/>
<text x="959.35" y="911.8" font-size="23" fill="#444" stroke="#444" stroke-width="0.25" text-anchor="middle">1.00</text>
<path d="M96.4 218.33h-11.1" stroke="#333" stroke-width="1.2"/>
<text x="77.6" y="226.53" font-size="23" fill="#444" stroke="#444" stroke-width="0.25" text-anchor="end">0.5</text>
<path d="M96.4 438.63h-11.1" stroke="#333" stroke-width="1.2"/>
<text x="77.6" y="446.83" font-size="23" fill="#444" stroke="#444" stroke-width="0.25" text-anchor="end">0.0</text>
<path d="M96.4 658.93h-11.1" stroke="#333" stroke-width="1.2"/>
<text x="77.6" y="667.13" font-size="23" fill="#444" stroke="#444" stroke-width="0.25" text-anchor="end">-0.5</text>
<text x="535" y="948" font-size="30" fill="#000" stroke="#000" stroke-width="0.3" text-anchor="middle">Dimorphism index</text>
<text transform="translate(22.2,438.2) rotate(-90)" font-size="30" fill="#000" stroke="#000" stroke-width="0.3" text-anchor="middle">Skewness of one group</text>
</svg></body></html>
